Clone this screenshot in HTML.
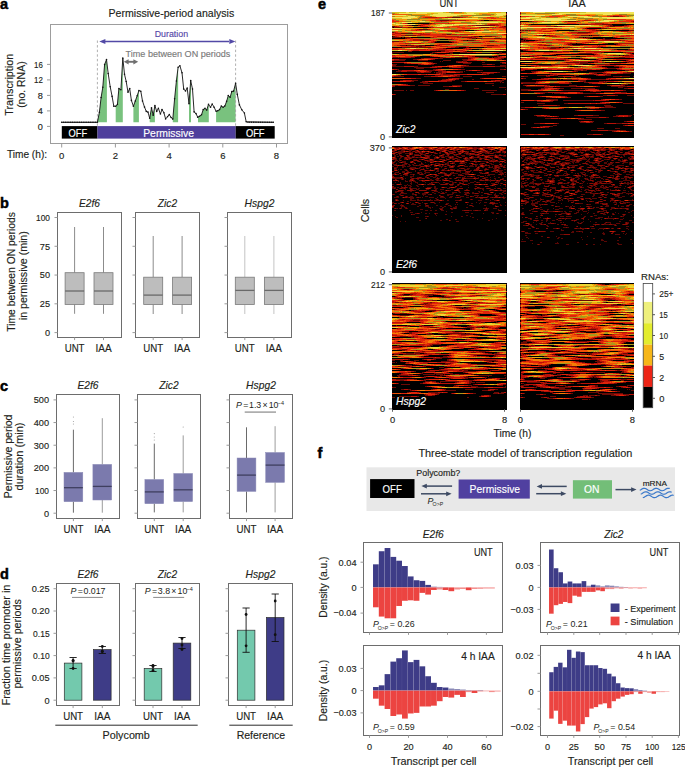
<!DOCTYPE html>
<html><head><meta charset="utf-8"><style>
html,body{margin:0;padding:0;background:#fff;width:685px;height:767px;overflow:hidden}
svg{display:block;font-family:"Liberation Sans",sans-serif}
</style></head><body>
<svg width="685" height="767" viewBox="0 0 685 767">
<text x="0" y="8.9" fill="#000" stroke="#000" stroke-width="0.5" style="font-size:14.5px;font-weight:bold;">a</text>
<text x="171.4" y="16.8" text-anchor="middle" textLength="125.7" lengthAdjust="spacingAndGlyphs" fill="#231f20" stroke="#231f20" stroke-width="0.15" style="font-size:10.9px;">Permissive-period analysis</text>
<rect x="50.5" y="24.5" width="237" height="119" fill="none" stroke="#9d9d9d" stroke-width="1"/>
<line x1="47" y1="126.4" x2="50.5" y2="126.4" stroke="#9a9a9a" stroke-width="1"/>
<text x="42.8" y="129.77" text-anchor="end" textLength="5.1" lengthAdjust="spacingAndGlyphs" fill="#231f20" stroke="#231f20" stroke-width="0.15" style="font-size:9.4px;">0</text>
<line x1="47" y1="110.9" x2="50.5" y2="110.9" stroke="#9a9a9a" stroke-width="1"/>
<text x="42.8" y="114.27" text-anchor="end" textLength="5.1" lengthAdjust="spacingAndGlyphs" fill="#231f20" stroke="#231f20" stroke-width="0.15" style="font-size:9.4px;">4</text>
<line x1="47" y1="95.4" x2="50.5" y2="95.4" stroke="#9a9a9a" stroke-width="1"/>
<text x="42.8" y="98.77" text-anchor="end" textLength="5.1" lengthAdjust="spacingAndGlyphs" fill="#231f20" stroke="#231f20" stroke-width="0.15" style="font-size:9.4px;">8</text>
<line x1="47" y1="79.9" x2="50.5" y2="79.9" stroke="#9a9a9a" stroke-width="1"/>
<text x="42.8" y="83.27" text-anchor="end" textLength="8.8" lengthAdjust="spacingAndGlyphs" fill="#231f20" stroke="#231f20" stroke-width="0.15" style="font-size:9.4px;">12</text>
<line x1="47" y1="64.4" x2="50.5" y2="64.4" stroke="#9a9a9a" stroke-width="1"/>
<text x="42.8" y="67.77" text-anchor="end" textLength="8.8" lengthAdjust="spacingAndGlyphs" fill="#231f20" stroke="#231f20" stroke-width="0.15" style="font-size:9.4px;">16</text>
<text x="13" y="84.8" text-anchor="middle" textLength="61.9" lengthAdjust="spacingAndGlyphs" transform="rotate(-90 13 84.8)" fill="#231f20" stroke="#231f20" stroke-width="0.15" style="font-size:10.7px;">Transcription</text>
<text x="25.2" y="84.6" text-anchor="middle" textLength="46.5" lengthAdjust="spacingAndGlyphs" transform="rotate(-90 25.2 84.6)" fill="#231f20" stroke="#231f20" stroke-width="0.15" style="font-size:10.7px;">(no. RNA)</text>
<line x1="61.7" y1="143.5" x2="61.7" y2="147.5" stroke="#9a9a9a" stroke-width="1"/>
<text x="61.7" y="159" text-anchor="middle" textLength="5.3" lengthAdjust="spacingAndGlyphs" fill="#231f20" stroke="#231f20" stroke-width="0.15" style="font-size:9.4px;">0</text>
<line x1="115.4" y1="143.5" x2="115.4" y2="147.5" stroke="#9a9a9a" stroke-width="1"/>
<text x="115.4" y="159" text-anchor="middle" textLength="5.3" lengthAdjust="spacingAndGlyphs" fill="#231f20" stroke="#231f20" stroke-width="0.15" style="font-size:9.4px;">2</text>
<line x1="169.10000000000002" y1="143.5" x2="169.10000000000002" y2="147.5" stroke="#9a9a9a" stroke-width="1"/>
<text x="169.10000000000002" y="159" text-anchor="middle" textLength="5.3" lengthAdjust="spacingAndGlyphs" fill="#231f20" stroke="#231f20" stroke-width="0.15" style="font-size:9.4px;">4</text>
<line x1="222.8" y1="143.5" x2="222.8" y2="147.5" stroke="#9a9a9a" stroke-width="1"/>
<text x="222.8" y="159" text-anchor="middle" textLength="5.3" lengthAdjust="spacingAndGlyphs" fill="#231f20" stroke="#231f20" stroke-width="0.15" style="font-size:9.4px;">6</text>
<line x1="276.5" y1="143.5" x2="276.5" y2="147.5" stroke="#9a9a9a" stroke-width="1"/>
<text x="276.5" y="159" text-anchor="middle" textLength="5.3" lengthAdjust="spacingAndGlyphs" fill="#231f20" stroke="#231f20" stroke-width="0.15" style="font-size:9.4px;">8</text>
<text x="6.9" y="158" textLength="40.2" lengthAdjust="spacingAndGlyphs" fill="#231f20" stroke="#231f20" stroke-width="0.15" style="font-size:10.7px;">Time (h):</text>
<rect x="61.8" y="126.1" width="35.7" height="12.5" fill="#000" stroke="none" stroke-width="1"/>
<rect x="97.5" y="126.1" width="138.2" height="12.5" fill="#4f3f9c" stroke="none" stroke-width="1"/>
<rect x="235.7" y="126.1" width="39" height="12.5" fill="#000" stroke="none" stroke-width="1"/>
<text x="77.9" y="136.6" text-anchor="middle" textLength="18.6" lengthAdjust="spacingAndGlyphs" fill="#fff" stroke="#fff" stroke-width="0.15" style="font-size:10.7px;">OFF</text>
<text x="168.6" y="136.6" text-anchor="middle" textLength="50.8" lengthAdjust="spacingAndGlyphs" fill="#fff" stroke="#fff" stroke-width="0.15" style="font-size:10.7px;">Permissive</text>
<text x="255.2" y="136.6" text-anchor="middle" textLength="18.6" lengthAdjust="spacingAndGlyphs" fill="#fff" stroke="#fff" stroke-width="0.15" style="font-size:10.7px;">OFF</text>
<polygon points="97.4,122.3 97.4,122.2 99.4,112.3 101.1,97.5 102.8,87.3 104.6,64.5 106.5,59.6 106.9,62.9 106.9,122.3" fill="#79c27e"/>
<polygon points="115.7,122.3 115.7,106.2 117.4,104.5 118.9,88.6 120.9,89.7 122.8,58.0 122.8,122.3" fill="#79c27e"/>
<polygon points="133.4,122.3 133.4,106.2 135.3,101.0 137.2,95.8 138.9,90.6 138.9,122.3" fill="#79c27e"/>
<polygon points="149.7,122.3 149.7,118.3 151.5,107.9 153.2,115.3 154.9,105.6 154.9,122.3" fill="#79c27e"/>
<polygon points="172.8,122.3 172.8,119.1 174.6,98.8 176.4,81.0 178.1,67.3 178.1,122.3" fill="#79c27e"/>
<polygon points="189.0,122.3 189.0,103.7 190.7,80.6 191.0,82.0 191.0,122.3" fill="#79c27e"/>
<polygon points="198.0,122.3 198.0,117.0 199.5,116.3 201.5,114.8 203.2,109.6 205.0,108.4 206.7,110.1 208.5,104.3 208.8,104.7 208.8,122.3" fill="#79c27e"/>
<polygon points="216.1,122.3 216.1,111.3 217.8,110.7 219.6,109.6 221.3,106.1 223.1,107.2 224.8,106.1 226.6,101.4 228.3,95.5 230.1,97.3 231.8,91.5 233.6,91.1 235.6,83.3 235.6,122.3" fill="#79c27e"/>
<line x1="97.4" y1="40.5" x2="97.4" y2="126" stroke="#9a9a9a" stroke-width="0.8" stroke-dasharray="2.4,2.2"/>
<line x1="235.6" y1="40.5" x2="235.6" y2="126" stroke="#9a9a9a" stroke-width="0.8" stroke-dasharray="2.4,2.2"/>
<polyline points="61.5,122.3 97.4,122.3 99.4,112.3 101.1,97.5 102.8,87.3 104.6,64.5 106.5,59.6 108.2,73.6 110.2,86.7 112.1,96.4 113.8,106.2 115.7,106.2 117.4,104.5 118.9,88.6 120.9,89.7 122.8,58.0 124.5,74.3 126.2,81.5 128.0,92.2 129.7,88.6 131.4,100.4 133.4,106.2 135.3,101.0 137.2,95.8 138.9,90.6 140.8,91.2 142.5,101.0 144.5,107.1 146.3,111.4 148.0,112.1 149.7,118.3 151.5,107.9 153.2,115.3 154.9,105.6 156.7,111.4 158.4,108.2 160.4,114.0 162.0,109.5 163.9,112.7 165.6,118.9 167.6,116.6 169.3,114.6 171.1,117.5 172.8,119.1 174.6,98.8 176.4,81.0 178.1,67.3 179.9,65.8 182.0,72.8 183.7,89.1 185.5,90.9 187.2,88.0 189.0,103.7 190.7,80.6 192.5,89.1 194.1,111.9 196.0,113.6 197.7,117.2 199.5,116.3 201.5,114.8 203.2,109.6 205.0,108.4 206.7,110.1 208.5,104.3 210.5,107.2 212.2,104.0 214.1,107.2 216.1,111.3 217.8,110.7 219.6,109.6 221.3,106.1 223.1,107.2 224.8,106.1 226.6,101.4 228.3,95.5 230.1,97.3 231.8,91.5 233.6,91.1 235.6,83.3 237.3,94.4 239.4,104.9 241.8,109.8 244.4,113.0 246.2,121.8 274.0,122.3" fill="none" stroke="#111" stroke-width="0.9" stroke-linejoin="round"/>
<g fill="#111"><circle cx="61.7" cy="122.3" r="0.8"/><circle cx="63.5" cy="122.3" r="0.8"/><circle cx="65.3" cy="122.3" r="0.8"/><circle cx="67.1" cy="122.3" r="0.8"/><circle cx="68.9" cy="122.3" r="0.8"/><circle cx="70.7" cy="122.3" r="0.8"/><circle cx="72.4" cy="122.3" r="0.8"/><circle cx="74.2" cy="122.3" r="0.8"/><circle cx="76.0" cy="122.3" r="0.8"/><circle cx="77.8" cy="122.3" r="0.8"/><circle cx="79.6" cy="122.3" r="0.8"/><circle cx="81.4" cy="122.3" r="0.8"/><circle cx="83.2" cy="122.3" r="0.8"/><circle cx="85.0" cy="122.3" r="0.8"/><circle cx="86.8" cy="122.3" r="0.8"/><circle cx="88.6" cy="122.3" r="0.8"/><circle cx="90.3" cy="122.3" r="0.8"/><circle cx="92.1" cy="122.3" r="0.8"/><circle cx="93.9" cy="122.3" r="0.8"/><circle cx="95.7" cy="122.3" r="0.8"/><circle cx="97.4" cy="122.2" r="0.8"/><circle cx="99.4" cy="112.3" r="0.8"/><circle cx="101.1" cy="97.5" r="0.8"/><circle cx="102.8" cy="87.3" r="0.8"/><circle cx="104.6" cy="64.5" r="0.8"/><circle cx="106.5" cy="59.6" r="0.8"/><circle cx="108.2" cy="73.6" r="0.8"/><circle cx="110.2" cy="86.7" r="0.8"/><circle cx="112.1" cy="96.4" r="0.8"/><circle cx="113.8" cy="106.2" r="0.8"/><circle cx="115.7" cy="106.2" r="0.8"/><circle cx="117.4" cy="104.5" r="0.8"/><circle cx="118.9" cy="88.6" r="0.8"/><circle cx="120.9" cy="89.7" r="0.8"/><circle cx="122.8" cy="58.0" r="0.8"/><circle cx="124.5" cy="74.3" r="0.8"/><circle cx="126.2" cy="81.5" r="0.8"/><circle cx="128.0" cy="92.2" r="0.8"/><circle cx="129.7" cy="88.6" r="0.8"/><circle cx="131.4" cy="100.4" r="0.8"/><circle cx="133.4" cy="106.2" r="0.8"/><circle cx="135.3" cy="101.0" r="0.8"/><circle cx="137.2" cy="95.8" r="0.8"/><circle cx="138.9" cy="90.6" r="0.8"/><circle cx="140.8" cy="91.2" r="0.8"/><circle cx="142.5" cy="101.0" r="0.8"/><circle cx="144.5" cy="107.1" r="0.8"/><circle cx="146.3" cy="111.4" r="0.8"/><circle cx="148.0" cy="112.1" r="0.8"/><circle cx="149.7" cy="118.3" r="0.8"/><circle cx="151.5" cy="107.9" r="0.8"/><circle cx="153.2" cy="115.3" r="0.8"/><circle cx="154.9" cy="105.6" r="0.8"/><circle cx="156.7" cy="111.4" r="0.8"/><circle cx="158.4" cy="108.2" r="0.8"/><circle cx="160.4" cy="114.0" r="0.8"/><circle cx="162.0" cy="109.5" r="0.8"/><circle cx="163.9" cy="112.7" r="0.8"/><circle cx="165.6" cy="118.9" r="0.8"/><circle cx="167.6" cy="116.6" r="0.8"/><circle cx="169.3" cy="114.6" r="0.8"/><circle cx="171.1" cy="117.5" r="0.8"/><circle cx="172.8" cy="119.1" r="0.8"/><circle cx="174.6" cy="98.8" r="0.8"/><circle cx="176.4" cy="81.0" r="0.8"/><circle cx="178.1" cy="67.3" r="0.8"/><circle cx="179.9" cy="65.8" r="0.8"/><circle cx="182.0" cy="72.8" r="0.8"/><circle cx="183.7" cy="89.1" r="0.8"/><circle cx="185.5" cy="90.9" r="0.8"/><circle cx="187.2" cy="88.0" r="0.8"/><circle cx="189.0" cy="103.7" r="0.8"/><circle cx="190.7" cy="80.6" r="0.8"/><circle cx="192.5" cy="89.1" r="0.8"/><circle cx="194.1" cy="111.9" r="0.8"/><circle cx="196.0" cy="113.6" r="0.8"/><circle cx="197.7" cy="117.2" r="0.8"/><circle cx="199.5" cy="116.3" r="0.8"/><circle cx="201.5" cy="114.8" r="0.8"/><circle cx="203.2" cy="109.6" r="0.8"/><circle cx="205.0" cy="108.4" r="0.8"/><circle cx="206.7" cy="110.1" r="0.8"/><circle cx="208.5" cy="104.3" r="0.8"/><circle cx="210.5" cy="107.2" r="0.8"/><circle cx="212.2" cy="104.0" r="0.8"/><circle cx="214.1" cy="107.2" r="0.8"/><circle cx="216.1" cy="111.3" r="0.8"/><circle cx="217.8" cy="110.7" r="0.8"/><circle cx="219.6" cy="109.6" r="0.8"/><circle cx="221.3" cy="106.1" r="0.8"/><circle cx="223.1" cy="107.2" r="0.8"/><circle cx="224.8" cy="106.1" r="0.8"/><circle cx="226.6" cy="101.4" r="0.8"/><circle cx="228.3" cy="95.5" r="0.8"/><circle cx="230.1" cy="97.3" r="0.8"/><circle cx="231.8" cy="91.5" r="0.8"/><circle cx="233.6" cy="91.1" r="0.8"/><circle cx="235.6" cy="83.3" r="0.8"/><circle cx="237.3" cy="94.4" r="0.8"/><circle cx="239.4" cy="104.9" r="0.8"/><circle cx="241.8" cy="109.8" r="0.8"/><circle cx="244.4" cy="113.0" r="0.8"/><circle cx="246.2" cy="121.8" r="0.8"/><circle cx="248.0" cy="122.3" r="0.8"/><circle cx="249.8" cy="122.3" r="0.8"/><circle cx="251.6" cy="122.3" r="0.8"/><circle cx="253.4" cy="122.3" r="0.8"/><circle cx="255.1" cy="122.3" r="0.8"/><circle cx="256.9" cy="122.3" r="0.8"/><circle cx="258.7" cy="122.3" r="0.8"/><circle cx="260.5" cy="122.3" r="0.8"/><circle cx="262.3" cy="122.3" r="0.8"/><circle cx="264.1" cy="122.3" r="0.8"/><circle cx="265.9" cy="122.3" r="0.8"/><circle cx="267.7" cy="122.3" r="0.8"/><circle cx="269.5" cy="122.3" r="0.8"/><circle cx="271.3" cy="122.3" r="0.8"/><circle cx="273.1" cy="122.3" r="0.8"/></g>
<line x1="104" y1="41.5" x2="229" y2="41.5" stroke="#5249a6" stroke-width="1.4"/>
<path d="M99.3,41.5 L105.4,38.9 L105.4,44.1 z" fill="#5249a6"/>
<path d="M235.4,41.5 L229.3,38.9 L229.3,44.1 z" fill="#5249a6"/>
<text x="171.4" y="37.3" text-anchor="middle" textLength="33.3" lengthAdjust="spacingAndGlyphs" fill="#5547a8" stroke="#5547a8" stroke-width="0.15" style="font-size:9.5px;">Duration</text>
<line x1="127" y1="61.8" x2="135" y2="61.8" stroke="#6f6f6f" stroke-width="1.9"/>
<path d="M123.8,61.8 L128.6,59.2 L128.6,64.4 z" fill="#6f6f6f"/>
<path d="M138.2,61.8 L133.4,59.2 L133.4,64.4 z" fill="#6f6f6f"/>
<text x="125.6" y="56.9" textLength="104.8" lengthAdjust="spacingAndGlyphs" fill="#7a7a7a" stroke="#7a7a7a" stroke-width="0.15" style="font-size:9.5px;">Time between ON periods</text>
<text x="0" y="207.5" fill="#000" stroke="#000" stroke-width="0.5" style="font-size:14.5px;font-weight:bold;">b</text>
<rect x="57.5" y="212.5" width="64.0" height="125.0" fill="none" stroke="#6d6d6d" stroke-width="1"/>
<line x1="54.5" y1="332.6" x2="57.5" y2="332.6" stroke="#9a9a9a" stroke-width="1"/>
<line x1="54.5" y1="303.82500000000005" x2="57.5" y2="303.82500000000005" stroke="#9a9a9a" stroke-width="1"/>
<line x1="54.5" y1="275.05" x2="57.5" y2="275.05" stroke="#9a9a9a" stroke-width="1"/>
<line x1="54.5" y1="246.27500000000003" x2="57.5" y2="246.27500000000003" stroke="#9a9a9a" stroke-width="1"/>
<line x1="54.5" y1="217.5" x2="57.5" y2="217.5" stroke="#9a9a9a" stroke-width="1"/>
<rect x="135.5" y="212.5" width="64.0" height="125.0" fill="none" stroke="#6d6d6d" stroke-width="1"/>
<line x1="132.5" y1="332.6" x2="135.5" y2="332.6" stroke="#9a9a9a" stroke-width="1"/>
<line x1="132.5" y1="303.82500000000005" x2="135.5" y2="303.82500000000005" stroke="#9a9a9a" stroke-width="1"/>
<line x1="132.5" y1="275.05" x2="135.5" y2="275.05" stroke="#9a9a9a" stroke-width="1"/>
<line x1="132.5" y1="246.27500000000003" x2="135.5" y2="246.27500000000003" stroke="#9a9a9a" stroke-width="1"/>
<line x1="132.5" y1="217.5" x2="135.5" y2="217.5" stroke="#9a9a9a" stroke-width="1"/>
<rect x="227.5" y="212.5" width="64.0" height="125.0" fill="none" stroke="#6d6d6d" stroke-width="1"/>
<line x1="224.5" y1="332.6" x2="227.5" y2="332.6" stroke="#9a9a9a" stroke-width="1"/>
<line x1="224.5" y1="303.82500000000005" x2="227.5" y2="303.82500000000005" stroke="#9a9a9a" stroke-width="1"/>
<line x1="224.5" y1="275.05" x2="227.5" y2="275.05" stroke="#9a9a9a" stroke-width="1"/>
<line x1="224.5" y1="246.27500000000003" x2="227.5" y2="246.27500000000003" stroke="#9a9a9a" stroke-width="1"/>
<line x1="224.5" y1="217.5" x2="227.5" y2="217.5" stroke="#9a9a9a" stroke-width="1"/>
<text x="50" y="335.97" text-anchor="end" textLength="5.1" lengthAdjust="spacingAndGlyphs" fill="#231f20" stroke="#231f20" stroke-width="0.15" style="font-size:9.4px;">0</text>
<text x="50" y="307.19" text-anchor="end" textLength="10.2" lengthAdjust="spacingAndGlyphs" fill="#231f20" stroke="#231f20" stroke-width="0.15" style="font-size:9.4px;">25</text>
<text x="50" y="278.42" text-anchor="end" textLength="10.2" lengthAdjust="spacingAndGlyphs" fill="#231f20" stroke="#231f20" stroke-width="0.15" style="font-size:9.4px;">50</text>
<text x="50" y="249.64" text-anchor="end" textLength="10.2" lengthAdjust="spacingAndGlyphs" fill="#231f20" stroke="#231f20" stroke-width="0.15" style="font-size:9.4px;">75</text>
<text x="50" y="220.87" text-anchor="end" textLength="13.9" lengthAdjust="spacingAndGlyphs" fill="#231f20" stroke="#231f20" stroke-width="0.15" style="font-size:9.4px;">100</text>
<text x="89.5" y="206.8" text-anchor="middle" textLength="20.9" lengthAdjust="spacingAndGlyphs" fill="#231f20" stroke="#231f20" stroke-width="0.15" style="font-size:10.7px;font-style:italic;">E2f6</text>
<text x="167.5" y="206.8" text-anchor="middle" textLength="19.3" lengthAdjust="spacingAndGlyphs" fill="#231f20" stroke="#231f20" stroke-width="0.15" style="font-size:10.7px;font-style:italic;">Zic2</text>
<text x="259.5" y="206.8" text-anchor="middle" textLength="29.8" lengthAdjust="spacingAndGlyphs" fill="#231f20" stroke="#231f20" stroke-width="0.15" style="font-size:10.7px;font-style:italic;">Hspg2</text>
<line x1="74.6" y1="227" x2="74.6" y2="272.7" stroke="#8c8c8c" stroke-width="1"/>
<line x1="74.6" y1="304.4" x2="74.6" y2="313.8" stroke="#8c8c8c" stroke-width="1"/>
<rect x="65.1" y="272.7" width="19" height="31.7" fill="#bdbdbd" stroke="#7a7a7a" stroke-width="0.8"/>
<line x1="65.1" y1="291" x2="84.1" y2="291" stroke="#6a6a6a" stroke-width="1.3"/>
<line x1="103.5" y1="227" x2="103.5" y2="272.7" stroke="#8c8c8c" stroke-width="1"/>
<line x1="103.5" y1="304.4" x2="103.5" y2="313.8" stroke="#8c8c8c" stroke-width="1"/>
<rect x="94.0" y="272.7" width="19" height="31.7" fill="#bdbdbd" stroke="#7a7a7a" stroke-width="0.8"/>
<line x1="94.0" y1="291" x2="113.0" y2="291" stroke="#6a6a6a" stroke-width="1.3"/>
<line x1="153.2" y1="236" x2="153.2" y2="277.2" stroke="#8c8c8c" stroke-width="1"/>
<line x1="153.2" y1="304.5" x2="153.2" y2="314" stroke="#8c8c8c" stroke-width="1"/>
<rect x="143.7" y="277.2" width="19" height="27.3" fill="#bdbdbd" stroke="#7a7a7a" stroke-width="0.8"/>
<line x1="143.7" y1="295.1" x2="162.7" y2="295.1" stroke="#6a6a6a" stroke-width="1.3"/>
<line x1="182.1" y1="236" x2="182.1" y2="277.2" stroke="#8c8c8c" stroke-width="1"/>
<line x1="182.1" y1="304.5" x2="182.1" y2="314" stroke="#8c8c8c" stroke-width="1"/>
<rect x="172.6" y="277.2" width="19" height="27.3" fill="#bdbdbd" stroke="#7a7a7a" stroke-width="0.8"/>
<line x1="172.6" y1="295.1" x2="191.6" y2="295.1" stroke="#6a6a6a" stroke-width="1.3"/>
<line x1="244.8" y1="236" x2="244.8" y2="277.2" stroke="#c4c4c4" stroke-width="1"/>
<line x1="244.8" y1="304.5" x2="244.8" y2="314" stroke="#c4c4c4" stroke-width="1"/>
<rect x="235.3" y="277.2" width="19" height="27.3" fill="#bdbdbd" stroke="#7a7a7a" stroke-width="0.8"/>
<line x1="235.3" y1="290.4" x2="254.3" y2="290.4" stroke="#6a6a6a" stroke-width="1.3"/>
<line x1="273.9" y1="236" x2="273.9" y2="277.2" stroke="#c4c4c4" stroke-width="1"/>
<line x1="273.9" y1="304.5" x2="273.9" y2="314" stroke="#c4c4c4" stroke-width="1"/>
<rect x="264.4" y="277.2" width="19" height="27.3" fill="#bdbdbd" stroke="#7a7a7a" stroke-width="0.8"/>
<line x1="264.4" y1="290.4" x2="283.4" y2="290.4" stroke="#6a6a6a" stroke-width="1.3"/>
<line x1="74.6" y1="337.5" x2="74.6" y2="340.1" stroke="#9a9a9a" stroke-width="1"/>
<line x1="103.5" y1="337.5" x2="103.5" y2="340.1" stroke="#9a9a9a" stroke-width="1"/>
<text x="74.6" y="351.9" text-anchor="middle" textLength="19.9" lengthAdjust="spacingAndGlyphs" fill="#231f20" stroke="#231f20" stroke-width="0.15" style="font-size:10.7px;">UNT</text>
<text x="103.5" y="351.9" text-anchor="middle" textLength="16.2" lengthAdjust="spacingAndGlyphs" fill="#231f20" stroke="#231f20" stroke-width="0.15" style="font-size:10.7px;">IAA</text>
<line x1="153.2" y1="337.5" x2="153.2" y2="340.1" stroke="#9a9a9a" stroke-width="1"/>
<line x1="182.1" y1="337.5" x2="182.1" y2="340.1" stroke="#9a9a9a" stroke-width="1"/>
<text x="153.2" y="351.9" text-anchor="middle" textLength="19.9" lengthAdjust="spacingAndGlyphs" fill="#231f20" stroke="#231f20" stroke-width="0.15" style="font-size:10.7px;">UNT</text>
<text x="182.1" y="351.9" text-anchor="middle" textLength="16.2" lengthAdjust="spacingAndGlyphs" fill="#231f20" stroke="#231f20" stroke-width="0.15" style="font-size:10.7px;">IAA</text>
<line x1="244.8" y1="337.5" x2="244.8" y2="340.1" stroke="#9a9a9a" stroke-width="1"/>
<line x1="273.9" y1="337.5" x2="273.9" y2="340.1" stroke="#9a9a9a" stroke-width="1"/>
<text x="244.8" y="351.9" text-anchor="middle" textLength="19.9" lengthAdjust="spacingAndGlyphs" fill="#231f20" stroke="#231f20" stroke-width="0.15" style="font-size:10.7px;">UNT</text>
<text x="273.9" y="351.9" text-anchor="middle" textLength="16.2" lengthAdjust="spacingAndGlyphs" fill="#231f20" stroke="#231f20" stroke-width="0.15" style="font-size:10.7px;">IAA</text>
<text x="14.6" y="271.9" text-anchor="middle" textLength="119.7" lengthAdjust="spacingAndGlyphs" transform="rotate(-90 14.6 271.9)" fill="#231f20" stroke="#231f20" stroke-width="0.15" style="font-size:10.7px;">Time between ON periods</text>
<text x="27.2" y="275.7" text-anchor="middle" textLength="89" lengthAdjust="spacingAndGlyphs" transform="rotate(-90 27.2 275.7)" fill="#231f20" stroke="#231f20" stroke-width="0.15" style="font-size:10.7px;">in permissive (min)</text>
<text x="0" y="390.8" fill="#000" stroke="#000" stroke-width="0.5" style="font-size:14.5px;font-weight:bold;">c</text>
<rect x="56.5" y="394.5" width="63.0" height="124.0" fill="none" stroke="#6d6d6d" stroke-width="1"/>
<line x1="53.5" y1="513.2" x2="56.5" y2="513.2" stroke="#9a9a9a" stroke-width="1"/>
<line x1="53.5" y1="490.54" x2="56.5" y2="490.54" stroke="#9a9a9a" stroke-width="1"/>
<line x1="53.5" y1="467.88000000000005" x2="56.5" y2="467.88000000000005" stroke="#9a9a9a" stroke-width="1"/>
<line x1="53.5" y1="445.22" x2="56.5" y2="445.22" stroke="#9a9a9a" stroke-width="1"/>
<line x1="53.5" y1="422.56000000000006" x2="56.5" y2="422.56000000000006" stroke="#9a9a9a" stroke-width="1"/>
<line x1="53.5" y1="399.90000000000003" x2="56.5" y2="399.90000000000003" stroke="#9a9a9a" stroke-width="1"/>
<rect x="137.5" y="394.5" width="63.0" height="124.0" fill="none" stroke="#6d6d6d" stroke-width="1"/>
<line x1="134.5" y1="513.2" x2="137.5" y2="513.2" stroke="#9a9a9a" stroke-width="1"/>
<line x1="134.5" y1="490.54" x2="137.5" y2="490.54" stroke="#9a9a9a" stroke-width="1"/>
<line x1="134.5" y1="467.88000000000005" x2="137.5" y2="467.88000000000005" stroke="#9a9a9a" stroke-width="1"/>
<line x1="134.5" y1="445.22" x2="137.5" y2="445.22" stroke="#9a9a9a" stroke-width="1"/>
<line x1="134.5" y1="422.56000000000006" x2="137.5" y2="422.56000000000006" stroke="#9a9a9a" stroke-width="1"/>
<line x1="134.5" y1="399.90000000000003" x2="137.5" y2="399.90000000000003" stroke="#9a9a9a" stroke-width="1"/>
<rect x="229.5" y="394.5" width="63.0" height="124.0" fill="none" stroke="#6d6d6d" stroke-width="1"/>
<line x1="226.5" y1="513.2" x2="229.5" y2="513.2" stroke="#9a9a9a" stroke-width="1"/>
<line x1="226.5" y1="490.54" x2="229.5" y2="490.54" stroke="#9a9a9a" stroke-width="1"/>
<line x1="226.5" y1="467.88000000000005" x2="229.5" y2="467.88000000000005" stroke="#9a9a9a" stroke-width="1"/>
<line x1="226.5" y1="445.22" x2="229.5" y2="445.22" stroke="#9a9a9a" stroke-width="1"/>
<line x1="226.5" y1="422.56000000000006" x2="229.5" y2="422.56000000000006" stroke="#9a9a9a" stroke-width="1"/>
<line x1="226.5" y1="399.90000000000003" x2="229.5" y2="399.90000000000003" stroke="#9a9a9a" stroke-width="1"/>
<text x="49" y="516.57" text-anchor="end" textLength="5.1" lengthAdjust="spacingAndGlyphs" fill="#231f20" stroke="#231f20" stroke-width="0.15" style="font-size:9.4px;">0</text>
<text x="49" y="493.91" text-anchor="end" textLength="13.9" lengthAdjust="spacingAndGlyphs" fill="#231f20" stroke="#231f20" stroke-width="0.15" style="font-size:9.4px;">100</text>
<text x="49" y="471.25" text-anchor="end" textLength="15.3" lengthAdjust="spacingAndGlyphs" fill="#231f20" stroke="#231f20" stroke-width="0.15" style="font-size:9.4px;">200</text>
<text x="49" y="448.59" text-anchor="end" textLength="15.3" lengthAdjust="spacingAndGlyphs" fill="#231f20" stroke="#231f20" stroke-width="0.15" style="font-size:9.4px;">300</text>
<text x="49" y="425.93" text-anchor="end" textLength="15.3" lengthAdjust="spacingAndGlyphs" fill="#231f20" stroke="#231f20" stroke-width="0.15" style="font-size:9.4px;">400</text>
<text x="49" y="403.27" text-anchor="end" textLength="15.3" lengthAdjust="spacingAndGlyphs" fill="#231f20" stroke="#231f20" stroke-width="0.15" style="font-size:9.4px;">500</text>
<text x="88.0" y="388.6" text-anchor="middle" textLength="20.9" lengthAdjust="spacingAndGlyphs" fill="#231f20" stroke="#231f20" stroke-width="0.15" style="font-size:10.7px;font-style:italic;">E2f6</text>
<text x="169.0" y="388.6" text-anchor="middle" textLength="19.3" lengthAdjust="spacingAndGlyphs" fill="#231f20" stroke="#231f20" stroke-width="0.15" style="font-size:10.7px;font-style:italic;">Zic2</text>
<text x="261.0" y="388.6" text-anchor="middle" textLength="29.8" lengthAdjust="spacingAndGlyphs" fill="#231f20" stroke="#231f20" stroke-width="0.15" style="font-size:10.7px;font-style:italic;">Hspg2</text>
<line x1="73.4" y1="429.7" x2="73.4" y2="472.4" stroke="#6a6a6a" stroke-width="1"/>
<line x1="73.4" y1="501.7" x2="73.4" y2="512.7" stroke="#6a6a6a" stroke-width="1"/>
<rect x="64.0" y="472.4" width="18.8" height="29.3" fill="#7b7aad" stroke="#8a89b5" stroke-width="0.5"/>
<line x1="64.0" y1="487.7" x2="82.80000000000001" y2="487.7" stroke="#3f3f5f" stroke-width="1.3"/>
<circle cx="73.4" cy="421.5" r="0.55" fill="#999"/>
<circle cx="73.4" cy="424" r="0.55" fill="#999"/>
<circle cx="73.4" cy="417" r="0.55" fill="#999"/>
<line x1="102.3" y1="418.2" x2="102.3" y2="464.4" stroke="#9c9c9c" stroke-width="1"/>
<line x1="102.3" y1="500" x2="102.3" y2="512.7" stroke="#9c9c9c" stroke-width="1"/>
<rect x="92.9" y="464.4" width="18.8" height="35.6" fill="#7b7aad" stroke="#8a89b5" stroke-width="0.5"/>
<line x1="92.89999999999999" y1="486.4" x2="111.7" y2="486.4" stroke="#3f3f5f" stroke-width="1.3"/>
<line x1="154.3" y1="443.6" x2="154.3" y2="479.5" stroke="#6a6a6a" stroke-width="1"/>
<line x1="154.3" y1="503.7" x2="154.3" y2="512.4" stroke="#6a6a6a" stroke-width="1"/>
<rect x="144.9" y="479.5" width="18.8" height="24.2" fill="#7b7aad" stroke="#8a89b5" stroke-width="0.5"/>
<line x1="144.9" y1="491.9" x2="163.70000000000002" y2="491.9" stroke="#3f3f5f" stroke-width="1.3"/>
<circle cx="154.3" cy="433.6" r="0.55" fill="#999"/>
<circle cx="154.3" cy="437" r="0.55" fill="#999"/>
<circle cx="154.3" cy="440" r="0.55" fill="#999"/>
<line x1="183.2" y1="435.4" x2="183.2" y2="473.5" stroke="#9c9c9c" stroke-width="1"/>
<line x1="183.2" y1="501.6" x2="183.2" y2="512.4" stroke="#9c9c9c" stroke-width="1"/>
<rect x="173.8" y="473.5" width="18.8" height="28.1" fill="#7b7aad" stroke="#8a89b5" stroke-width="0.5"/>
<line x1="173.79999999999998" y1="489.8" x2="192.6" y2="489.8" stroke="#3f3f5f" stroke-width="1.3"/>
<circle cx="183.2" cy="427" r="0.55" fill="#999"/>
<line x1="246.5" y1="427.3" x2="246.5" y2="458" stroke="#6a6a6a" stroke-width="1"/>
<line x1="246.5" y1="491.4" x2="246.5" y2="512.4" stroke="#6a6a6a" stroke-width="1"/>
<rect x="237.1" y="458" width="18.8" height="33.4" fill="#7b7aad" stroke="#8a89b5" stroke-width="0.5"/>
<line x1="237.1" y1="475.1" x2="255.9" y2="475.1" stroke="#3f3f5f" stroke-width="1.3"/>
<line x1="275.1" y1="426.2" x2="275.1" y2="452.5" stroke="#9c9c9c" stroke-width="1"/>
<line x1="275.1" y1="482.4" x2="275.1" y2="512.4" stroke="#9c9c9c" stroke-width="1"/>
<rect x="265.7" y="452.5" width="18.8" height="29.9" fill="#7b7aad" stroke="#8a89b5" stroke-width="0.5"/>
<line x1="265.70000000000005" y1="465.1" x2="284.5" y2="465.1" stroke="#3f3f5f" stroke-width="1.3"/>
<line x1="73.4" y1="518.5" x2="73.4" y2="521.1" stroke="#9a9a9a" stroke-width="1"/>
<line x1="102.3" y1="518.5" x2="102.3" y2="521.1" stroke="#9a9a9a" stroke-width="1"/>
<text x="73.4" y="533" text-anchor="middle" textLength="19.9" lengthAdjust="spacingAndGlyphs" fill="#231f20" stroke="#231f20" stroke-width="0.15" style="font-size:10.7px;">UNT</text>
<text x="102.3" y="533" text-anchor="middle" textLength="16.2" lengthAdjust="spacingAndGlyphs" fill="#231f20" stroke="#231f20" stroke-width="0.15" style="font-size:10.7px;">IAA</text>
<line x1="154.3" y1="518.5" x2="154.3" y2="521.1" stroke="#9a9a9a" stroke-width="1"/>
<line x1="183.2" y1="518.5" x2="183.2" y2="521.1" stroke="#9a9a9a" stroke-width="1"/>
<text x="154.3" y="533" text-anchor="middle" textLength="19.9" lengthAdjust="spacingAndGlyphs" fill="#231f20" stroke="#231f20" stroke-width="0.15" style="font-size:10.7px;">UNT</text>
<text x="183.2" y="533" text-anchor="middle" textLength="16.2" lengthAdjust="spacingAndGlyphs" fill="#231f20" stroke="#231f20" stroke-width="0.15" style="font-size:10.7px;">IAA</text>
<line x1="246.5" y1="518.5" x2="246.5" y2="521.1" stroke="#9a9a9a" stroke-width="1"/>
<line x1="275.1" y1="518.5" x2="275.1" y2="521.1" stroke="#9a9a9a" stroke-width="1"/>
<text x="246.5" y="533" text-anchor="middle" textLength="19.9" lengthAdjust="spacingAndGlyphs" fill="#231f20" stroke="#231f20" stroke-width="0.15" style="font-size:10.7px;">UNT</text>
<text x="275.1" y="533" text-anchor="middle" textLength="16.2" lengthAdjust="spacingAndGlyphs" fill="#231f20" stroke="#231f20" stroke-width="0.15" style="font-size:10.7px;">IAA</text>
<text x="12.5" y="456.4" text-anchor="middle" textLength="83.7" lengthAdjust="spacingAndGlyphs" transform="rotate(-90 12.5 456.4)" fill="#231f20" stroke="#231f20" stroke-width="0.15" style="font-size:10.7px;">Permissive period</text>
<text x="23" y="456.5" text-anchor="middle" textLength="67.8" lengthAdjust="spacingAndGlyphs" transform="rotate(-90 23 456.5)" fill="#231f20" stroke="#231f20" stroke-width="0.15" style="font-size:10.7px;">duration (min)</text>
<text x="235.9" y="407.5" fill="#231f20" style="font-size:8.8px;"><tspan font-style="italic">P</tspan><tspan x="243.2">=</tspan><tspan x="249">1.3</tspan><tspan x="262.4">×</tspan><tspan x="268.7">10</tspan><tspan x="277.8" y="404.6" style="font-size:5.5px">−4</tspan></text>
<line x1="244.7" y1="412.1" x2="276" y2="412.1" stroke="#9a9a9a" stroke-width="1.4"/>
<text x="0" y="579.3" fill="#000" stroke="#000" stroke-width="0.5" style="font-size:14.5px;font-weight:bold;">d</text>
<rect x="56.5" y="583.5" width="63.0" height="122.0" fill="none" stroke="#6d6d6d" stroke-width="1"/>
<line x1="53.5" y1="700.2" x2="56.5" y2="700.2" stroke="#9a9a9a" stroke-width="1"/>
<line x1="53.5" y1="677.9000000000001" x2="56.5" y2="677.9000000000001" stroke="#9a9a9a" stroke-width="1"/>
<line x1="53.5" y1="655.6" x2="56.5" y2="655.6" stroke="#9a9a9a" stroke-width="1"/>
<line x1="53.5" y1="633.3000000000001" x2="56.5" y2="633.3000000000001" stroke="#9a9a9a" stroke-width="1"/>
<line x1="53.5" y1="611.0" x2="56.5" y2="611.0" stroke="#9a9a9a" stroke-width="1"/>
<line x1="53.5" y1="588.7" x2="56.5" y2="588.7" stroke="#9a9a9a" stroke-width="1"/>
<rect x="135.5" y="583.5" width="64.0" height="122.0" fill="none" stroke="#6d6d6d" stroke-width="1"/>
<line x1="132.5" y1="700.2" x2="135.5" y2="700.2" stroke="#9a9a9a" stroke-width="1"/>
<line x1="132.5" y1="677.9000000000001" x2="135.5" y2="677.9000000000001" stroke="#9a9a9a" stroke-width="1"/>
<line x1="132.5" y1="655.6" x2="135.5" y2="655.6" stroke="#9a9a9a" stroke-width="1"/>
<line x1="132.5" y1="633.3000000000001" x2="135.5" y2="633.3000000000001" stroke="#9a9a9a" stroke-width="1"/>
<line x1="132.5" y1="611.0" x2="135.5" y2="611.0" stroke="#9a9a9a" stroke-width="1"/>
<line x1="132.5" y1="588.7" x2="135.5" y2="588.7" stroke="#9a9a9a" stroke-width="1"/>
<rect x="228.5" y="583.5" width="64.0" height="122.0" fill="none" stroke="#6d6d6d" stroke-width="1"/>
<line x1="225.5" y1="700.2" x2="228.5" y2="700.2" stroke="#9a9a9a" stroke-width="1"/>
<line x1="225.5" y1="677.9000000000001" x2="228.5" y2="677.9000000000001" stroke="#9a9a9a" stroke-width="1"/>
<line x1="225.5" y1="655.6" x2="228.5" y2="655.6" stroke="#9a9a9a" stroke-width="1"/>
<line x1="225.5" y1="633.3000000000001" x2="228.5" y2="633.3000000000001" stroke="#9a9a9a" stroke-width="1"/>
<line x1="225.5" y1="611.0" x2="228.5" y2="611.0" stroke="#9a9a9a" stroke-width="1"/>
<line x1="225.5" y1="588.7" x2="228.5" y2="588.7" stroke="#9a9a9a" stroke-width="1"/>
<text x="49.6" y="703.57" text-anchor="end" textLength="5.1" lengthAdjust="spacingAndGlyphs" fill="#231f20" stroke="#231f20" stroke-width="0.15" style="font-size:9.4px;">0</text>
<text x="49.6" y="681.27" text-anchor="end" textLength="17.9" lengthAdjust="spacingAndGlyphs" fill="#231f20" stroke="#231f20" stroke-width="0.15" style="font-size:9.4px;">0.05</text>
<text x="49.6" y="658.97" text-anchor="end" textLength="16.5" lengthAdjust="spacingAndGlyphs" fill="#231f20" stroke="#231f20" stroke-width="0.15" style="font-size:9.4px;">0.10</text>
<text x="49.6" y="636.67" text-anchor="end" textLength="16.5" lengthAdjust="spacingAndGlyphs" fill="#231f20" stroke="#231f20" stroke-width="0.15" style="font-size:9.4px;">0.15</text>
<text x="49.6" y="614.37" text-anchor="end" textLength="17.9" lengthAdjust="spacingAndGlyphs" fill="#231f20" stroke="#231f20" stroke-width="0.15" style="font-size:9.4px;">0.20</text>
<text x="49.6" y="592.07" text-anchor="end" textLength="17.9" lengthAdjust="spacingAndGlyphs" fill="#231f20" stroke="#231f20" stroke-width="0.15" style="font-size:9.4px;">0.25</text>
<text x="88.0" y="578.2" text-anchor="middle" textLength="20.9" lengthAdjust="spacingAndGlyphs" fill="#231f20" stroke="#231f20" stroke-width="0.15" style="font-size:10.7px;font-style:italic;">E2f6</text>
<text x="167.5" y="578.2" text-anchor="middle" textLength="19.3" lengthAdjust="spacingAndGlyphs" fill="#231f20" stroke="#231f20" stroke-width="0.15" style="font-size:10.7px;font-style:italic;">Zic2</text>
<text x="260.5" y="578.2" text-anchor="middle" textLength="29.8" lengthAdjust="spacingAndGlyphs" fill="#231f20" stroke="#231f20" stroke-width="0.15" style="font-size:10.7px;font-style:italic;">Hspg2</text>
<rect x="64.3" y="663.1" width="17.6" height="37.1" fill="#73c9ad" stroke="#2e2e2e" stroke-width="0.7"/>
<line x1="73.1" y1="657.5" x2="73.1" y2="668.5" stroke="#111" stroke-width="0.9"/>
<line x1="69.5" y1="657.5" x2="76.69999999999999" y2="657.5" stroke="#111" stroke-width="0.9"/>
<line x1="69.5" y1="668.5" x2="76.69999999999999" y2="668.5" stroke="#111" stroke-width="0.9"/>
<circle cx="73.1" cy="660.5" r="1.4" fill="#111"/>
<circle cx="73.1" cy="668.5" r="1.4" fill="#111"/>
<circle cx="73.1" cy="661" r="1.4" fill="#111"/>
<rect x="93.5" y="649.6" width="17.6" height="50.6" fill="#3e3c87" stroke="#2e2e2e" stroke-width="0.7"/>
<line x1="102.3" y1="646.5" x2="102.3" y2="653.5" stroke="#111" stroke-width="0.9"/>
<line x1="98.7" y1="646.5" x2="105.89999999999999" y2="646.5" stroke="#111" stroke-width="0.9"/>
<line x1="98.7" y1="653.5" x2="105.89999999999999" y2="653.5" stroke="#111" stroke-width="0.9"/>
<circle cx="102.3" cy="646.5" r="1.4" fill="#111"/>
<circle cx="102.3" cy="651.5" r="1.4" fill="#111"/>
<circle cx="102.3" cy="651.5" r="1.4" fill="#111"/>
<rect x="144.2" y="668.5" width="17.6" height="31.7" fill="#73c9ad" stroke="#2e2e2e" stroke-width="0.7"/>
<line x1="153.0" y1="665.5" x2="153.0" y2="671.5" stroke="#111" stroke-width="0.9"/>
<line x1="149.4" y1="665.5" x2="156.6" y2="665.5" stroke="#111" stroke-width="0.9"/>
<line x1="149.4" y1="671.5" x2="156.6" y2="671.5" stroke="#111" stroke-width="0.9"/>
<circle cx="153.0" cy="665.5" r="1.4" fill="#111"/>
<circle cx="153.0" cy="670.5" r="1.4" fill="#111"/>
<circle cx="153.0" cy="666.5" r="1.4" fill="#111"/>
<rect x="173.2" y="643.1" width="17.6" height="57.1" fill="#3e3c87" stroke="#2e2e2e" stroke-width="0.7"/>
<line x1="182.0" y1="637.5" x2="182.0" y2="648.5" stroke="#111" stroke-width="0.9"/>
<line x1="178.4" y1="637.5" x2="185.6" y2="637.5" stroke="#111" stroke-width="0.9"/>
<line x1="178.4" y1="648.5" x2="185.6" y2="648.5" stroke="#111" stroke-width="0.9"/>
<circle cx="182.0" cy="638.5" r="1.4" fill="#111"/>
<circle cx="182.0" cy="645" r="1.4" fill="#111"/>
<circle cx="182.0" cy="649.5" r="1.4" fill="#111"/>
<rect x="237.3" y="630.2" width="17.6" height="70.0" fill="#73c9ad" stroke="#2e2e2e" stroke-width="0.7"/>
<line x1="246.1" y1="608" x2="246.1" y2="652.3" stroke="#111" stroke-width="0.9"/>
<line x1="242.5" y1="608" x2="249.7" y2="608" stroke="#111" stroke-width="0.9"/>
<line x1="242.5" y1="652.3" x2="249.7" y2="652.3" stroke="#111" stroke-width="0.9"/>
<circle cx="246.1" cy="614.5" r="1.4" fill="#111"/>
<circle cx="246.1" cy="645.8" r="1.4" fill="#111"/>
<rect x="266.4" y="617.5" width="17.6" height="82.7" fill="#3e3c87" stroke="#2e2e2e" stroke-width="0.7"/>
<line x1="275.2" y1="594" x2="275.2" y2="641.5" stroke="#111" stroke-width="0.9"/>
<line x1="271.59999999999997" y1="594" x2="278.8" y2="594" stroke="#111" stroke-width="0.9"/>
<line x1="271.59999999999997" y1="641.5" x2="278.8" y2="641.5" stroke="#111" stroke-width="0.9"/>
<circle cx="275.2" cy="601" r="1.4" fill="#111"/>
<circle cx="275.2" cy="634.7" r="1.4" fill="#111"/>
<line x1="73.1" y1="705.5" x2="73.1" y2="708.1" stroke="#9a9a9a" stroke-width="1"/>
<line x1="102.3" y1="705.5" x2="102.3" y2="708.1" stroke="#9a9a9a" stroke-width="1"/>
<text x="73.1" y="720" text-anchor="middle" textLength="19.9" lengthAdjust="spacingAndGlyphs" fill="#231f20" stroke="#231f20" stroke-width="0.15" style="font-size:10.7px;">UNT</text>
<text x="102.3" y="720" text-anchor="middle" textLength="16.2" lengthAdjust="spacingAndGlyphs" fill="#231f20" stroke="#231f20" stroke-width="0.15" style="font-size:10.7px;">IAA</text>
<line x1="153.0" y1="705.5" x2="153.0" y2="708.1" stroke="#9a9a9a" stroke-width="1"/>
<line x1="182.0" y1="705.5" x2="182.0" y2="708.1" stroke="#9a9a9a" stroke-width="1"/>
<text x="153.0" y="720" text-anchor="middle" textLength="19.9" lengthAdjust="spacingAndGlyphs" fill="#231f20" stroke="#231f20" stroke-width="0.15" style="font-size:10.7px;">UNT</text>
<text x="182.0" y="720" text-anchor="middle" textLength="16.2" lengthAdjust="spacingAndGlyphs" fill="#231f20" stroke="#231f20" stroke-width="0.15" style="font-size:10.7px;">IAA</text>
<line x1="246.1" y1="705.5" x2="246.1" y2="708.1" stroke="#9a9a9a" stroke-width="1"/>
<line x1="275.2" y1="705.5" x2="275.2" y2="708.1" stroke="#9a9a9a" stroke-width="1"/>
<text x="246.1" y="720" text-anchor="middle" textLength="19.9" lengthAdjust="spacingAndGlyphs" fill="#231f20" stroke="#231f20" stroke-width="0.15" style="font-size:10.7px;">UNT</text>
<text x="275.2" y="720" text-anchor="middle" textLength="16.2" lengthAdjust="spacingAndGlyphs" fill="#231f20" stroke="#231f20" stroke-width="0.15" style="font-size:10.7px;">IAA</text>
<text x="9.8" y="645" text-anchor="middle" textLength="120.8" lengthAdjust="spacingAndGlyphs" transform="rotate(-90 9.8 645)" fill="#231f20" stroke="#231f20" stroke-width="0.15" style="font-size:10.7px;">Fraction time promoter in</text>
<text x="21.3" y="643.9" text-anchor="middle" textLength="89.4" lengthAdjust="spacingAndGlyphs" transform="rotate(-90 21.3 643.9)" fill="#231f20" stroke="#231f20" stroke-width="0.15" style="font-size:10.7px;">permissive periods</text>
<text x="70.5" y="594.3" fill="#231f20" style="font-size:8.8px;"><tspan font-style="italic">P</tspan><tspan x="77.8">=</tspan><tspan x="83.5">0.017</tspan></text>
<line x1="72" y1="597.4" x2="102.8" y2="597.4" stroke="#8a8a8a" stroke-width="1"/>
<text x="144.7" y="594.3" fill="#231f20" style="font-size:8.8px;"><tspan font-style="italic">P</tspan><tspan x="152">=</tspan><tspan x="157.8">3.8</tspan><tspan x="171.2">×</tspan><tspan x="177.5">10</tspan><tspan x="186.6" y="591.4" style="font-size:5.5px">−4</tspan></text>
<line x1="153.2" y1="597.4" x2="184.2" y2="597.4" stroke="#8a8a8a" stroke-width="1"/>
<line x1="55.3" y1="725.2" x2="197.7" y2="725.2" stroke="#2a2a2a" stroke-width="1"/>
<line x1="229.3" y1="725.2" x2="292.7" y2="725.2" stroke="#2a2a2a" stroke-width="1"/>
<text x="126.2" y="738.6" text-anchor="middle" textLength="47.3" lengthAdjust="spacingAndGlyphs" fill="#231f20" stroke="#231f20" stroke-width="0.15" style="font-size:10.7px;">Polycomb</text>
<text x="260.9" y="738.6" text-anchor="middle" textLength="48.5" lengthAdjust="spacingAndGlyphs" fill="#231f20" stroke="#231f20" stroke-width="0.15" style="font-size:10.7px;">Reference</text>
<text x="318" y="9.0" fill="#000" stroke="#000" stroke-width="0.5" style="font-size:14.5px;font-weight:bold;">e</text>
<text x="449.1" y="7.3" text-anchor="middle" textLength="19.4" lengthAdjust="spacingAndGlyphs" fill="#231f20" stroke="#231f20" stroke-width="0.15" style="font-size:10.7px;">UNT</text>
<text x="577.1" y="7.3" text-anchor="middle" textLength="17.5" lengthAdjust="spacingAndGlyphs" fill="#231f20" stroke="#231f20" stroke-width="0.15" style="font-size:10.7px;">IAA</text>
<defs>
<linearGradient id="g00" x1="0" y1="0" x2="0" y2="1"><stop offset="0" stop-color="rgb(255,255,255)"/><stop offset="0.03" stop-color="rgb(246,246,246)"/><stop offset="0.07" stop-color="rgb(233,233,233)"/><stop offset="0.12" stop-color="rgb(215,215,215)"/><stop offset="0.25" stop-color="rgb(197,197,197)"/><stop offset="0.35" stop-color="rgb(177,177,177)"/><stop offset="0.45" stop-color="rgb(158,158,158)"/><stop offset="0.52" stop-color="rgb(145,145,145)"/><stop offset="0.58" stop-color="rgb(133,133,133)"/><stop offset="0.62" stop-color="rgb(117,117,117)"/><stop offset="0.66" stop-color="rgb(98,98,98)"/><stop offset="0.7" stop-color="rgb(0,0,0)"/><stop offset="1" stop-color="rgb(0,0,0)"/></linearGradient>
<filter id="hm00" x="0" y="0" width="1" height="1" color-interpolation-filters="sRGB">
<feTurbulence type="fractalNoise" baseFrequency="0.03 2.3" numOctaves="2" seed="3" result="t1"/>
<feColorMatrix in="t1" type="matrix" values="1 0 0 0 0  1 0 0 0 0  1 0 0 0 0  0 0 0 0 1" result="n1"/>
<feTurbulence type="fractalNoise" baseFrequency="0 0.7" numOctaves="1" seed="4" result="t2"/>
<feColorMatrix in="t2" type="matrix" values="1 0 0 0 0  1 0 0 0 0  1 0 0 0 0  0 0 0 0 1" result="n2"/>
<feComposite in="n1" in2="n2" operator="arithmetic" k1="0" k2="0.8" k3="0.6" k4="-0.19999999999999996" result="m"/>
<feComposite in="m" in2="SourceGraphic" operator="arithmetic" k1="0" k2="2" k3="1.5" k4="-1.6" result="v"/>
<feComponentTransfer in="v"><feFuncR type="discrete" tableValues="0.00 0.00 0.00 0.00 0.42 0.72 0.90 0.94 0.60 0.96 0.82 0.95"/><feFuncG type="discrete" tableValues="0.00 0.00 0.00 0.00 0.04 0.07 0.16 0.35 0.52 0.60 0.78 0.90"/><feFuncB type="discrete" tableValues="0.00 0.00 0.00 0.00 0.02 0.03 0.04 0.03 0.12 0.03 0.15 0.35"/><feFuncA type="linear" slope="0" intercept="1"/></feComponentTransfer>
</filter>
<linearGradient id="g01" x1="0" y1="0" x2="0" y2="1"><stop offset="0" stop-color="rgb(255,255,255)"/><stop offset="0.03" stop-color="rgb(249,249,249)"/><stop offset="0.07" stop-color="rgb(230,230,230)"/><stop offset="0.12" stop-color="rgb(218,218,218)"/><stop offset="0.25" stop-color="rgb(200,200,200)"/><stop offset="0.4" stop-color="rgb(186,186,186)"/><stop offset="0.5" stop-color="rgb(167,167,167)"/><stop offset="0.6" stop-color="rgb(155,155,155)"/><stop offset="0.7" stop-color="rgb(144,144,144)"/><stop offset="0.8" stop-color="rgb(133,133,133)"/><stop offset="0.9" stop-color="rgb(120,120,120)"/><stop offset="1" stop-color="rgb(115,115,115)"/></linearGradient>
<filter id="hm01" x="0" y="0" width="1" height="1" color-interpolation-filters="sRGB">
<feTurbulence type="fractalNoise" baseFrequency="0.03 2.3" numOctaves="2" seed="5" result="t1"/>
<feColorMatrix in="t1" type="matrix" values="1 0 0 0 0  1 0 0 0 0  1 0 0 0 0  0 0 0 0 1" result="n1"/>
<feTurbulence type="fractalNoise" baseFrequency="0 0.7" numOctaves="1" seed="6" result="t2"/>
<feColorMatrix in="t2" type="matrix" values="1 0 0 0 0  1 0 0 0 0  1 0 0 0 0  0 0 0 0 1" result="n2"/>
<feComposite in="n1" in2="n2" operator="arithmetic" k1="0" k2="0.8" k3="0.6" k4="-0.19999999999999996" result="m"/>
<feComposite in="m" in2="SourceGraphic" operator="arithmetic" k1="0" k2="2" k3="1.5" k4="-1.6" result="v"/>
<feComponentTransfer in="v"><feFuncR type="discrete" tableValues="0.00 0.00 0.00 0.00 0.42 0.72 0.90 0.94 0.60 0.96 0.82 0.95"/><feFuncG type="discrete" tableValues="0.00 0.00 0.00 0.00 0.04 0.07 0.16 0.35 0.52 0.60 0.78 0.90"/><feFuncB type="discrete" tableValues="0.00 0.00 0.00 0.00 0.02 0.03 0.04 0.03 0.12 0.03 0.15 0.35"/><feFuncA type="linear" slope="0" intercept="1"/></feComponentTransfer>
</filter>
<linearGradient id="g10" x1="0" y1="0" x2="0" y2="1"><stop offset="0" stop-color="rgb(223,223,223)"/><stop offset="0.015" stop-color="rgb(185,185,185)"/><stop offset="0.03" stop-color="rgb(167,167,167)"/><stop offset="0.08" stop-color="rgb(161,161,161)"/><stop offset="0.2" stop-color="rgb(157,157,157)"/><stop offset="0.3" stop-color="rgb(154,154,154)"/><stop offset="0.4" stop-color="rgb(150,150,150)"/><stop offset="0.48" stop-color="rgb(145,145,145)"/><stop offset="0.55" stop-color="rgb(137,137,137)"/><stop offset="0.6" stop-color="rgb(129,129,129)"/><stop offset="0.65" stop-color="rgb(0,0,0)"/><stop offset="1" stop-color="rgb(0,0,0)"/></linearGradient>
<filter id="hm10" x="0" y="0" width="1" height="1" color-interpolation-filters="sRGB">
<feTurbulence type="fractalNoise" baseFrequency="0.2 2.3" numOctaves="2" seed="9" result="t1"/>
<feColorMatrix in="t1" type="matrix" values="1 0 0 0 0  1 0 0 0 0  1 0 0 0 0  0 0 0 0 1" result="n1"/>
<feTurbulence type="fractalNoise" baseFrequency="0 0.7" numOctaves="1" seed="10" result="t2"/>
<feColorMatrix in="t2" type="matrix" values="1 0 0 0 0  1 0 0 0 0  1 0 0 0 0  0 0 0 0 1" result="n2"/>
<feComposite in="n1" in2="n2" operator="arithmetic" k1="0" k2="0.4" k3="0.2" k4="0.19999999999999996" result="m"/>
<feComposite in="m" in2="SourceGraphic" operator="arithmetic" k1="0" k2="2" k3="1.5" k4="-1.6" result="v"/>
<feComponentTransfer in="v"><feFuncR type="discrete" tableValues="0.00 0.00 0.00 0.00 0.35 0.55 0.75 0.88 0.93 0.95 0.80 0.93"/><feFuncG type="discrete" tableValues="0.00 0.00 0.00 0.00 0.03 0.05 0.10 0.20 0.40 0.60 0.70 0.85"/><feFuncB type="discrete" tableValues="0.00 0.00 0.00 0.00 0.02 0.02 0.03 0.03 0.03 0.05 0.10 0.20"/><feFuncA type="linear" slope="0" intercept="1"/></feComponentTransfer>
</filter>
<linearGradient id="g11" x1="0" y1="0" x2="0" y2="1"><stop offset="0" stop-color="rgb(223,223,223)"/><stop offset="0.015" stop-color="rgb(185,185,185)"/><stop offset="0.03" stop-color="rgb(167,167,167)"/><stop offset="0.08" stop-color="rgb(161,161,161)"/><stop offset="0.2" stop-color="rgb(156,156,156)"/><stop offset="0.3" stop-color="rgb(155,155,155)"/><stop offset="0.4" stop-color="rgb(153,153,153)"/><stop offset="0.5" stop-color="rgb(148,148,148)"/><stop offset="0.6" stop-color="rgb(143,143,143)"/><stop offset="0.7" stop-color="rgb(138,138,138)"/><stop offset="0.78" stop-color="rgb(129,129,129)"/><stop offset="0.85" stop-color="rgb(0,0,0)"/><stop offset="1" stop-color="rgb(0,0,0)"/></linearGradient>
<filter id="hm11" x="0" y="0" width="1" height="1" color-interpolation-filters="sRGB">
<feTurbulence type="fractalNoise" baseFrequency="0.2 2.3" numOctaves="2" seed="11" result="t1"/>
<feColorMatrix in="t1" type="matrix" values="1 0 0 0 0  1 0 0 0 0  1 0 0 0 0  0 0 0 0 1" result="n1"/>
<feTurbulence type="fractalNoise" baseFrequency="0 0.7" numOctaves="1" seed="12" result="t2"/>
<feColorMatrix in="t2" type="matrix" values="1 0 0 0 0  1 0 0 0 0  1 0 0 0 0  0 0 0 0 1" result="n2"/>
<feComposite in="n1" in2="n2" operator="arithmetic" k1="0" k2="0.4" k3="0.2" k4="0.19999999999999996" result="m"/>
<feComposite in="m" in2="SourceGraphic" operator="arithmetic" k1="0" k2="2" k3="1.5" k4="-1.6" result="v"/>
<feComponentTransfer in="v"><feFuncR type="discrete" tableValues="0.00 0.00 0.00 0.00 0.35 0.55 0.75 0.88 0.93 0.95 0.80 0.93"/><feFuncG type="discrete" tableValues="0.00 0.00 0.00 0.00 0.03 0.05 0.10 0.20 0.40 0.60 0.70 0.85"/><feFuncB type="discrete" tableValues="0.00 0.00 0.00 0.00 0.02 0.02 0.03 0.03 0.03 0.05 0.10 0.20"/><feFuncA type="linear" slope="0" intercept="1"/></feComponentTransfer>
</filter>
<linearGradient id="g20" x1="0" y1="0" x2="0" y2="1"><stop offset="0" stop-color="rgb(255,255,255)"/><stop offset="0.04" stop-color="rgb(222,222,222)"/><stop offset="0.15" stop-color="rgb(209,209,209)"/><stop offset="0.3" stop-color="rgb(197,197,197)"/><stop offset="0.45" stop-color="rgb(191,191,191)"/><stop offset="0.6" stop-color="rgb(178,178,178)"/><stop offset="0.7" stop-color="rgb(174,174,174)"/><stop offset="0.8" stop-color="rgb(156,156,156)"/><stop offset="0.87" stop-color="rgb(140,140,140)"/><stop offset="0.91" stop-color="rgb(117,117,117)"/><stop offset="0.95" stop-color="rgb(0,0,0)"/><stop offset="1" stop-color="rgb(0,0,0)"/></linearGradient>
<filter id="hm20" x="0" y="0" width="1" height="1" color-interpolation-filters="sRGB">
<feTurbulence type="fractalNoise" baseFrequency="0.04 2.3" numOctaves="2" seed="13" result="t1"/>
<feColorMatrix in="t1" type="matrix" values="1 0 0 0 0  1 0 0 0 0  1 0 0 0 0  0 0 0 0 1" result="n1"/>
<feTurbulence type="fractalNoise" baseFrequency="0 0.7" numOctaves="1" seed="14" result="t2"/>
<feColorMatrix in="t2" type="matrix" values="1 0 0 0 0  1 0 0 0 0  1 0 0 0 0  0 0 0 0 1" result="n2"/>
<feComposite in="n1" in2="n2" operator="arithmetic" k1="0" k2="0.8" k3="0.5" k4="-0.15000000000000002" result="m"/>
<feComposite in="m" in2="SourceGraphic" operator="arithmetic" k1="0" k2="2" k3="1.5" k4="-1.6" result="v"/>
<feComponentTransfer in="v"><feFuncR type="discrete" tableValues="0.00 0.00 0.00 0.00 0.42 0.72 0.88 0.94 0.96 0.66 0.95 0.93"/><feFuncG type="discrete" tableValues="0.00 0.00 0.00 0.00 0.04 0.07 0.14 0.32 0.50 0.60 0.68 0.84"/><feFuncB type="discrete" tableValues="0.00 0.00 0.00 0.00 0.02 0.03 0.04 0.03 0.02 0.12 0.05 0.20"/><feFuncA type="linear" slope="0" intercept="1"/></feComponentTransfer>
</filter>
<linearGradient id="g21" x1="0" y1="0" x2="0" y2="1"><stop offset="0" stop-color="rgb(255,255,255)"/><stop offset="0.04" stop-color="rgb(230,230,230)"/><stop offset="0.15" stop-color="rgb(209,209,209)"/><stop offset="0.3" stop-color="rgb(204,204,204)"/><stop offset="0.45" stop-color="rgb(193,193,193)"/><stop offset="0.6" stop-color="rgb(187,187,187)"/><stop offset="0.7" stop-color="rgb(176,176,176)"/><stop offset="0.8" stop-color="rgb(163,163,163)"/><stop offset="0.88" stop-color="rgb(147,147,147)"/><stop offset="0.92" stop-color="rgb(117,117,117)"/><stop offset="0.96" stop-color="rgb(0,0,0)"/><stop offset="1" stop-color="rgb(0,0,0)"/></linearGradient>
<filter id="hm21" x="0" y="0" width="1" height="1" color-interpolation-filters="sRGB">
<feTurbulence type="fractalNoise" baseFrequency="0.04 2.3" numOctaves="2" seed="17" result="t1"/>
<feColorMatrix in="t1" type="matrix" values="1 0 0 0 0  1 0 0 0 0  1 0 0 0 0  0 0 0 0 1" result="n1"/>
<feTurbulence type="fractalNoise" baseFrequency="0 0.7" numOctaves="1" seed="18" result="t2"/>
<feColorMatrix in="t2" type="matrix" values="1 0 0 0 0  1 0 0 0 0  1 0 0 0 0  0 0 0 0 1" result="n2"/>
<feComposite in="n1" in2="n2" operator="arithmetic" k1="0" k2="0.8" k3="0.5" k4="-0.15000000000000002" result="m"/>
<feComposite in="m" in2="SourceGraphic" operator="arithmetic" k1="0" k2="2" k3="1.5" k4="-1.6" result="v"/>
<feComponentTransfer in="v"><feFuncR type="discrete" tableValues="0.00 0.00 0.00 0.00 0.42 0.72 0.88 0.94 0.96 0.66 0.95 0.93"/><feFuncG type="discrete" tableValues="0.00 0.00 0.00 0.00 0.04 0.07 0.14 0.32 0.50 0.60 0.68 0.84"/><feFuncB type="discrete" tableValues="0.00 0.00 0.00 0.00 0.02 0.03 0.04 0.03 0.02 0.12 0.05 0.20"/><feFuncA type="linear" slope="0" intercept="1"/></feComponentTransfer>
</filter>
</defs>
<rect x="392" y="12" width="114.5" height="125.2" fill="url(#g00)" stroke="none" stroke-width="1" filter="url(#hm00)"/>
<rect x="520.2" y="12" width="113.8" height="125.2" fill="url(#g01)" stroke="none" stroke-width="1" filter="url(#hm01)"/>
<rect x="392" y="146.9" width="114.5" height="125.3" fill="url(#g10)" stroke="none" stroke-width="1" filter="url(#hm10)"/>
<rect x="520.2" y="146.9" width="113.8" height="125.3" fill="url(#g11)" stroke="none" stroke-width="1" filter="url(#hm11)"/>
<rect x="392" y="283.7" width="114.5" height="125.5" fill="url(#g20)" stroke="none" stroke-width="1" filter="url(#hm20)"/>
<rect x="520.2" y="283.7" width="113.8" height="125.5" fill="url(#g21)" stroke="none" stroke-width="1" filter="url(#hm21)"/>
<line x1="388.8" y1="13" x2="392" y2="13" stroke="#555" stroke-width="0.9"/>
<line x1="388.8" y1="136.89999999999998" x2="392" y2="136.89999999999998" stroke="#555" stroke-width="0.9"/>
<text x="385" y="16.37" text-anchor="end" textLength="13.9" lengthAdjust="spacingAndGlyphs" fill="#231f20" stroke="#231f20" stroke-width="0.15" style="font-size:9.4px;">187</text>
<text x="385" y="140.27" text-anchor="end" textLength="5.1" lengthAdjust="spacingAndGlyphs" fill="#231f20" stroke="#231f20" stroke-width="0.15" style="font-size:9.4px;">0</text>
<line x1="388.8" y1="147.9" x2="392" y2="147.9" stroke="#555" stroke-width="0.9"/>
<line x1="388.8" y1="271.9" x2="392" y2="271.9" stroke="#555" stroke-width="0.9"/>
<text x="385" y="151.27" text-anchor="end" textLength="15.3" lengthAdjust="spacingAndGlyphs" fill="#231f20" stroke="#231f20" stroke-width="0.15" style="font-size:9.4px;">370</text>
<text x="385" y="275.27" text-anchor="end" textLength="5.1" lengthAdjust="spacingAndGlyphs" fill="#231f20" stroke="#231f20" stroke-width="0.15" style="font-size:9.4px;">0</text>
<line x1="388.8" y1="284.7" x2="392" y2="284.7" stroke="#555" stroke-width="0.9"/>
<line x1="388.8" y1="408.9" x2="392" y2="408.9" stroke="#555" stroke-width="0.9"/>
<text x="385" y="288.07" text-anchor="end" textLength="13.9" lengthAdjust="spacingAndGlyphs" fill="#231f20" stroke="#231f20" stroke-width="0.15" style="font-size:9.4px;">212</text>
<text x="385" y="412.27" text-anchor="end" textLength="5.1" lengthAdjust="spacingAndGlyphs" fill="#231f20" stroke="#231f20" stroke-width="0.15" style="font-size:9.4px;">0</text>
<text x="369" y="210.6" text-anchor="middle" textLength="23.5" lengthAdjust="spacingAndGlyphs" transform="rotate(-90 369 210.6)" fill="#231f20" stroke="#231f20" stroke-width="0.15" style="font-size:10.7px;">Cells</text>
<text x="396" y="132.5" textLength="19.5" lengthAdjust="spacingAndGlyphs" fill="#fff" stroke="#fff" stroke-width="0.15" style="font-size:10.7px;font-style:italic;">Zic2</text>
<text x="396" y="267.8" textLength="21" lengthAdjust="spacingAndGlyphs" fill="#fff" stroke="#fff" stroke-width="0.15" style="font-size:10.7px;font-style:italic;">E2f6</text>
<text x="396" y="404.8" textLength="30" lengthAdjust="spacingAndGlyphs" fill="#fff" stroke="#fff" stroke-width="0.15" style="font-size:10.7px;font-style:italic;">Hspg2</text>
<line x1="392.5" y1="409.2" x2="392.5" y2="411.8" stroke="#555" stroke-width="0.9"/>
<line x1="504.5" y1="409.2" x2="504.5" y2="411.8" stroke="#555" stroke-width="0.9"/>
<line x1="520.5" y1="409.2" x2="520.5" y2="411.8" stroke="#555" stroke-width="0.9"/>
<line x1="632.5" y1="409.2" x2="632.5" y2="411.8" stroke="#555" stroke-width="0.9"/>
<text x="392.6" y="422.9" text-anchor="middle" textLength="5.2" lengthAdjust="spacingAndGlyphs" fill="#231f20" stroke="#231f20" stroke-width="0.15" style="font-size:9.4px;">0</text>
<text x="504.5" y="422.9" text-anchor="middle" textLength="5.2" lengthAdjust="spacingAndGlyphs" fill="#231f20" stroke="#231f20" stroke-width="0.15" style="font-size:9.4px;">8</text>
<text x="520.3" y="422.9" text-anchor="middle" textLength="5.2" lengthAdjust="spacingAndGlyphs" fill="#231f20" stroke="#231f20" stroke-width="0.15" style="font-size:9.4px;">0</text>
<text x="632.3" y="422.9" text-anchor="middle" textLength="5.2" lengthAdjust="spacingAndGlyphs" fill="#231f20" stroke="#231f20" stroke-width="0.15" style="font-size:9.4px;">8</text>
<text x="512.4" y="436.8" text-anchor="middle" textLength="37.8" lengthAdjust="spacingAndGlyphs" fill="#231f20" stroke="#231f20" stroke-width="0.15" style="font-size:10.7px;">Time (h)</text>
<rect x="643.2" y="283.5" width="9.5" height="18.4" fill="#ffffff" stroke="none" stroke-width="1"/>
<rect x="643.2" y="301.9" width="9.5" height="21.3" fill="#eef07c" stroke="none" stroke-width="1"/>
<rect x="643.2" y="323.2" width="9.5" height="21.4" fill="#e3ec2e" stroke="none" stroke-width="1"/>
<rect x="643.2" y="344.6" width="9.5" height="21.0" fill="#f6b619" stroke="none" stroke-width="1"/>
<rect x="643.2" y="365.6" width="9.5" height="21.3" fill="#ed2416" stroke="none" stroke-width="1"/>
<rect x="643.2" y="386.9" width="9.5" height="20.8" fill="#000000" stroke="none" stroke-width="1"/>
<rect x="643.2" y="283.5" width="9.5" height="124.2" fill="none" stroke="#444" stroke-width="0.8"/>
<line x1="652.7" y1="293.9" x2="655" y2="293.9" stroke="#444" stroke-width="0.9"/>
<text x="659.3" y="297.3" textLength="14.2" lengthAdjust="spacingAndGlyphs" fill="#231f20" stroke="#231f20" stroke-width="0.15" style="font-size:9.4px;">25+</text>
<line x1="652.7" y1="314.7" x2="655" y2="314.7" stroke="#444" stroke-width="0.9"/>
<text x="659.3" y="318.1" textLength="8.5" lengthAdjust="spacingAndGlyphs" fill="#231f20" stroke="#231f20" stroke-width="0.15" style="font-size:9.4px;">15</text>
<line x1="652.7" y1="335.5" x2="655" y2="335.5" stroke="#444" stroke-width="0.9"/>
<text x="659.3" y="338.9" textLength="8.7" lengthAdjust="spacingAndGlyphs" fill="#231f20" stroke="#231f20" stroke-width="0.15" style="font-size:9.4px;">10</text>
<line x1="652.7" y1="356.3" x2="655" y2="356.3" stroke="#444" stroke-width="0.9"/>
<text x="659.3" y="359.7" textLength="4.9" lengthAdjust="spacingAndGlyphs" fill="#231f20" stroke="#231f20" stroke-width="0.15" style="font-size:9.4px;">5</text>
<line x1="652.7" y1="377.5" x2="655" y2="377.5" stroke="#444" stroke-width="0.9"/>
<text x="659.3" y="380.9" textLength="4.9" lengthAdjust="spacingAndGlyphs" fill="#231f20" stroke="#231f20" stroke-width="0.15" style="font-size:9.4px;">2</text>
<line x1="652.7" y1="398.3" x2="655" y2="398.3" stroke="#444" stroke-width="0.9"/>
<text x="659.3" y="401.7" textLength="5.2" lengthAdjust="spacingAndGlyphs" fill="#231f20" stroke="#231f20" stroke-width="0.15" style="font-size:9.4px;">0</text>
<text x="641" y="280.1" textLength="27.8" lengthAdjust="spacingAndGlyphs" fill="#231f20" stroke="#231f20" stroke-width="0.15" style="font-size:9.8px;">RNAs:</text>
<text x="317.5" y="458.2" fill="#000" stroke="#000" stroke-width="0.5" style="font-size:14.5px;font-weight:bold;">f</text>
<text x="525.35" y="456.8" text-anchor="middle" textLength="213.9" lengthAdjust="spacingAndGlyphs" fill="#231f20" stroke="#231f20" stroke-width="0.15" style="font-size:11px;">Three-state model of transcription regulation</text>
<rect x="366.5" y="467.3" width="308.5" height="43.7" fill="#e8e8e8" stroke="none" stroke-width="1"/>
<rect x="370.1" y="479.1" width="44.4" height="18.9" fill="#000" stroke="none" stroke-width="1"/>
<text x="392.2" y="493.4" text-anchor="middle" textLength="19.2" lengthAdjust="spacingAndGlyphs" fill="#fff" stroke="#fff" stroke-width="0.15" style="font-size:10.7px;">OFF</text>
<text x="416.3" y="475.7" textLength="44" lengthAdjust="spacingAndGlyphs" fill="#231f20" stroke="#231f20" stroke-width="0.15" style="font-size:9px;">Polycomb?</text>
<line x1="452.1" y1="486.1" x2="425.17999999999995" y2="486.1" stroke="#3d4a63" stroke-width="1.5"/>
<path d="M421.4,486.1 L426.8,483.7 L426.8,488.5 z" fill="#3d4a63"/>
<line x1="421" y1="493.8" x2="447.82000000000005" y2="493.8" stroke="#3d4a63" stroke-width="1.5"/>
<path d="M451.6,493.8 L446.2,491.4 L446.2,496.2 z" fill="#3d4a63"/>
<text x="427.5" y="504.1" fill="#231f20" style="font-size:8.8px;font-style:italic">P</text>
<text x="432.6" y="506.4" fill="#231f20" textLength="10.6" lengthAdjust="spacingAndGlyphs" style="font-size:4.8px">O&gt;P</text>
<rect x="458.6" y="479.5" width="71.2" height="19.1" fill="#5040a0" stroke="none" stroke-width="1"/>
<text x="494.85" y="493.4" text-anchor="middle" textLength="50.5" lengthAdjust="spacingAndGlyphs" fill="#fff" stroke="#fff" stroke-width="0.15" style="font-size:10.7px;">Permissive</text>
<line x1="566.7" y1="486.4" x2="540.38" y2="486.4" stroke="#3d4a63" stroke-width="1.5"/>
<path d="M536.6,486.4 L542.0,484.0 L542.0,488.8 z" fill="#3d4a63"/>
<line x1="536.2" y1="493.7" x2="562.52" y2="493.7" stroke="#3d4a63" stroke-width="1.5"/>
<path d="M566.3,493.7 L560.9,491.3 L560.9,496.1 z" fill="#3d4a63"/>
<rect x="572.9" y="480.2" width="39.1" height="18.4" fill="#73be78" stroke="none" stroke-width="1"/>
<text x="591.6" y="493.3" text-anchor="middle" textLength="15.4" lengthAdjust="spacingAndGlyphs" fill="#fff" stroke="#fff" stroke-width="0.15" style="font-size:10.7px;">ON</text>
<line x1="615.5" y1="489.6" x2="632.72" y2="489.6" stroke="#3d4a63" stroke-width="1.5"/>
<path d="M636.5,489.6 L631.1,487.2 L631.1,492.0 z" fill="#3d4a63"/>
<text x="642.7" y="485.5" textLength="24.3" lengthAdjust="spacingAndGlyphs" fill="#231f20" stroke="#231f20" stroke-width="0.15" style="font-size:7.2px;">mRNA</text>
<polyline points="640.30,490.07 640.80,489.76 641.30,489.43 641.80,489.11 642.30,488.82 642.80,488.57 643.30,488.39 643.80,488.28 644.30,488.25 644.80,488.31 645.30,488.45 645.80,488.66 646.30,488.93 646.80,489.24 647.30,489.57 647.80,489.89 648.30,490.18 648.80,490.43 649.30,490.61 649.80,490.72 650.30,490.75 650.80,490.69 651.30,490.55 651.80,490.34 652.30,490.07 652.80,489.76 653.30,489.43 653.80,489.11 654.30,488.82 654.80,488.57 655.30,488.39 655.80,488.28 656.30,488.25 656.80,488.31 657.30,488.45 657.80,488.66 658.30,488.93 658.80,489.24 659.30,489.57 659.80,489.89 660.30,490.18 660.80,490.43 661.30,490.61 661.80,490.72 662.30,490.75 662.80,490.69 663.30,490.55 663.80,490.34 664.30,490.07 664.80,489.76 665.30,489.43 665.80,489.11 666.30,488.82 666.80,488.57 667.30,488.39 667.80,488.28 668.30,488.25 668.80,488.31 669.30,488.45" fill="none" stroke="#3a78c9" stroke-width="1.2" stroke-linecap="round"/>
<polyline points="641.20,493.93 641.70,493.68 642.20,493.39 642.70,493.07 643.20,492.74 643.70,492.43 644.20,492.16 644.70,491.95 645.20,491.81 645.70,491.75 646.20,491.78 646.70,491.89 647.20,492.07 647.70,492.32 648.20,492.61 648.70,492.93 649.20,493.26 649.70,493.57 650.20,493.84 650.70,494.05 651.20,494.19 651.70,494.25 652.20,494.22 652.70,494.11 653.20,493.93 653.70,493.68 654.20,493.39 654.70,493.07 655.20,492.74 655.70,492.43 656.20,492.16 656.70,491.95 657.20,491.81 657.70,491.75 658.20,491.78 658.70,491.89 659.20,492.07 659.70,492.32 660.20,492.61 660.70,492.93 661.20,493.26 661.70,493.57 662.20,493.84 662.70,494.05 663.20,494.19 663.70,494.25 664.20,494.22 664.70,494.11 665.20,493.93 665.70,493.68 666.20,493.39 666.70,493.07 667.20,492.74 667.70,492.43 668.20,492.16 668.70,491.95 669.20,491.81 669.70,491.75 670.20,491.78 670.70,491.89 671.20,492.07" fill="none" stroke="#3a78c9" stroke-width="1.2" stroke-linecap="round"/>
<polyline points="643.30,497.54 643.80,497.37 644.30,497.13 644.80,496.85 645.30,496.53 645.80,496.20 646.30,495.89 646.80,495.61 647.30,495.39 647.80,495.23 648.30,495.16 648.80,495.17 649.30,495.26 649.80,495.43 650.30,495.67 650.80,495.95 651.30,496.27 651.80,496.60 652.30,496.91 652.80,497.19 653.30,497.41 653.80,497.57 654.30,497.64 654.80,497.63 655.30,497.54 655.80,497.37 656.30,497.13 656.80,496.85 657.30,496.53 657.80,496.20 658.30,495.89 658.80,495.61 659.30,495.39 659.80,495.23 660.30,495.16 660.80,495.17 661.30,495.26 661.80,495.43 662.30,495.67 662.80,495.95 663.30,496.27 663.80,496.60 664.30,496.91 664.80,497.19 665.30,497.41 665.80,497.57 666.30,497.64 666.80,497.63 667.30,497.54 667.80,497.37 668.30,497.13 668.80,496.85 669.30,496.53 669.80,496.20 670.30,495.89 670.80,495.61 671.30,495.39 671.80,495.23 672.30,495.16 672.80,495.17 673.30,495.26" fill="none" stroke="#3a78c9" stroke-width="1.2" stroke-linecap="round"/>
<rect x="373.0" y="564.3" width="5.8" height="23.1" fill="#3e3c87" stroke="#ffffff" stroke-width="0.3" stroke-opacity="0.15"/>
<rect x="378.8" y="551.2" width="5.8" height="36.2" fill="#3e3c87" stroke="#ffffff" stroke-width="0.3" stroke-opacity="0.15"/>
<rect x="384.6" y="548" width="5.8" height="39.4" fill="#3e3c87" stroke="#ffffff" stroke-width="0.3" stroke-opacity="0.15"/>
<rect x="390.4" y="556.9" width="5.8" height="30.5" fill="#3e3c87" stroke="#ffffff" stroke-width="0.3" stroke-opacity="0.15"/>
<rect x="396.2" y="560.7" width="5.8" height="26.7" fill="#3e3c87" stroke="#ffffff" stroke-width="0.3" stroke-opacity="0.15"/>
<rect x="402.0" y="566" width="5.8" height="21.4" fill="#3e3c87" stroke="#ffffff" stroke-width="0.3" stroke-opacity="0.15"/>
<rect x="407.8" y="576.4" width="5.8" height="11.0" fill="#3e3c87" stroke="#ffffff" stroke-width="0.3" stroke-opacity="0.15"/>
<rect x="413.6" y="580.2" width="5.8" height="7.2" fill="#3e3c87" stroke="#ffffff" stroke-width="0.3" stroke-opacity="0.15"/>
<rect x="419.4" y="580.9" width="5.8" height="6.5" fill="#3e3c87" stroke="#ffffff" stroke-width="0.3" stroke-opacity="0.15"/>
<rect x="425.2" y="584.9" width="5.8" height="2.5" fill="#3e3c87" stroke="#ffffff" stroke-width="0.3" stroke-opacity="0.15"/>
<rect x="431.0" y="586.6" width="5.8" height="0.8" fill="#3e3c87" stroke="#ffffff" stroke-width="0.3" stroke-opacity="0.15" fill-opacity="0.6"/>
<rect x="436.8" y="586.9" width="5.8" height="0.5" fill="#3e3c87" stroke="#ffffff" stroke-width="0.3" stroke-opacity="0.15" fill-opacity="0.6"/>
<rect x="442.6" y="587.1" width="5.8" height="0.3" fill="#3e3c87" stroke="#ffffff" stroke-width="0.3" stroke-opacity="0.15" fill-opacity="0.6"/>
<rect x="373.0" y="587.4" width="5.8" height="19.9" fill="#ec4441" stroke="#ffffff" stroke-width="0.3" stroke-opacity="0.15"/>
<rect x="378.8" y="587.4" width="5.8" height="29.2" fill="#ec4441" stroke="#ffffff" stroke-width="0.3" stroke-opacity="0.15"/>
<rect x="384.6" y="587.4" width="5.8" height="30.9" fill="#ec4441" stroke="#ffffff" stroke-width="0.3" stroke-opacity="0.15"/>
<rect x="390.4" y="587.4" width="5.8" height="30.9" fill="#ec4441" stroke="#ffffff" stroke-width="0.3" stroke-opacity="0.15"/>
<rect x="396.2" y="587.4" width="5.8" height="18.6" fill="#ec4441" stroke="#ffffff" stroke-width="0.3" stroke-opacity="0.15"/>
<rect x="402.0" y="587.4" width="5.8" height="13.4" fill="#ec4441" stroke="#ffffff" stroke-width="0.3" stroke-opacity="0.15"/>
<rect x="407.8" y="587.4" width="5.8" height="12.9" fill="#ec4441" stroke="#ffffff" stroke-width="0.3" stroke-opacity="0.15"/>
<rect x="413.6" y="587.4" width="5.8" height="13.4" fill="#ec4441" stroke="#ffffff" stroke-width="0.3" stroke-opacity="0.15"/>
<rect x="419.4" y="587.4" width="5.8" height="5.5" fill="#ec4441" stroke="#ffffff" stroke-width="0.3" stroke-opacity="0.15"/>
<rect x="425.2" y="587.4" width="5.8" height="7.2" fill="#ec4441" stroke="#ffffff" stroke-width="0.3" stroke-opacity="0.15"/>
<rect x="431.0" y="587.4" width="5.8" height="2.6" fill="#ec4441" stroke="#ffffff" stroke-width="0.3" stroke-opacity="0.15"/>
<rect x="436.8" y="587.4" width="5.8" height="2.1" fill="#ec4441" stroke="#ffffff" stroke-width="0.3" stroke-opacity="0.15" fill-opacity="0.6"/>
<rect x="442.6" y="587.4" width="5.8" height="2.6" fill="#ec4441" stroke="#ffffff" stroke-width="0.3" stroke-opacity="0.15"/>
<rect x="448.4" y="587.4" width="5.8" height="3.8" fill="#ec4441" stroke="#ffffff" stroke-width="0.3" stroke-opacity="0.15"/>
<rect x="454.2" y="587.4" width="5.8" height="2.1" fill="#ec4441" stroke="#ffffff" stroke-width="0.3" stroke-opacity="0.15" fill-opacity="0.6"/>
<rect x="460.0" y="587.4" width="5.8" height="1.6" fill="#ec4441" stroke="#ffffff" stroke-width="0.3" stroke-opacity="0.15" fill-opacity="0.6"/>
<rect x="465.8" y="587.4" width="5.8" height="2.8" fill="#ec4441" stroke="#ffffff" stroke-width="0.3" stroke-opacity="0.15"/>
<rect x="471.6" y="587.4" width="5.8" height="1.6" fill="#ec4441" stroke="#ffffff" stroke-width="0.3" stroke-opacity="0.15" fill-opacity="0.6"/>
<rect x="477.4" y="587.4" width="5.8" height="1.4" fill="#ec4441" stroke="#ffffff" stroke-width="0.3" stroke-opacity="0.15" fill-opacity="0.6"/>
<rect x="483.2" y="587.4" width="5.8" height="1.1" fill="#ec4441" stroke="#ffffff" stroke-width="0.3" stroke-opacity="0.15" fill-opacity="0.6"/>
<rect x="489.0" y="587.4" width="5.8" height="1.1" fill="#ec4441" stroke="#ffffff" stroke-width="0.3" stroke-opacity="0.15" fill-opacity="0.6"/>
<rect x="363.5" y="542.5" width="139.0" height="90.0" fill="none" stroke="#6d6d6d" stroke-width="1"/>
<line x1="360.5" y1="562.2" x2="363.5" y2="562.2" stroke="#9a9a9a" stroke-width="1"/>
<text x="356.5" y="565.57" text-anchor="end" textLength="17.9" lengthAdjust="spacingAndGlyphs" fill="#231f20" stroke="#231f20" stroke-width="0.15" style="font-size:9.4px;">0.04</text>
<line x1="360.5" y1="587.4" x2="363.5" y2="587.4" stroke="#9a9a9a" stroke-width="1"/>
<text x="356.5" y="590.77" text-anchor="end" textLength="5.1" lengthAdjust="spacingAndGlyphs" fill="#231f20" stroke="#231f20" stroke-width="0.15" style="font-size:9.4px;">0</text>
<line x1="360.5" y1="613.1" x2="363.5" y2="613.1" stroke="#9a9a9a" stroke-width="1"/>
<text x="356.5" y="616.47" text-anchor="end" textLength="23.1" lengthAdjust="spacingAndGlyphs" fill="#231f20" stroke="#231f20" stroke-width="0.15" style="font-size:9.4px;">−0.04</text>
<line x1="369.5" y1="632.5" x2="369.5" y2="634.9" stroke="#9a9a9a" stroke-width="1"/>
<line x1="408.5" y1="632.5" x2="408.5" y2="634.9" stroke="#9a9a9a" stroke-width="1"/>
<line x1="447.5" y1="632.5" x2="447.5" y2="634.9" stroke="#9a9a9a" stroke-width="1"/>
<line x1="486.4" y1="632.5" x2="486.4" y2="634.9" stroke="#9a9a9a" stroke-width="1"/>
<text x="473.9" y="555.9" textLength="18.8" lengthAdjust="spacingAndGlyphs" fill="#231f20" stroke="#231f20" stroke-width="0.15" style="font-size:10.7px;">UNT</text>
<text x="373" y="626.6" fill="#231f20" style="font-size:8.8px;font-style:italic">P</text>
<text x="377.8" y="630.1" fill="#231f20" textLength="10.5" lengthAdjust="spacingAndGlyphs" style="font-size:4.8px">O&gt;P</text>
<text x="389.8" y="626.6" fill="#231f20" textLength="24.8" lengthAdjust="spacingAndGlyphs" style="font-size:9.2px">= 0.26</text>
<text x="433.2" y="537.8" text-anchor="middle" textLength="20.9" lengthAdjust="spacingAndGlyphs" fill="#231f20" stroke="#231f20" stroke-width="0.15" style="font-size:10.7px;font-style:italic;">E2f6</text>
<rect x="549.0" y="549.5" width="4.66" height="37.9" fill="#3e3c87" stroke="#ffffff" stroke-width="0.3" stroke-opacity="0.15"/>
<rect x="553.66" y="568.2" width="4.66" height="19.2" fill="#3e3c87" stroke="#ffffff" stroke-width="0.3" stroke-opacity="0.15"/>
<rect x="558.32" y="572.2" width="4.66" height="15.2" fill="#3e3c87" stroke="#ffffff" stroke-width="0.3" stroke-opacity="0.15"/>
<rect x="562.98" y="583.4" width="4.66" height="4.0" fill="#3e3c87" stroke="#ffffff" stroke-width="0.3" stroke-opacity="0.15"/>
<rect x="567.64" y="581.5" width="4.66" height="5.9" fill="#3e3c87" stroke="#ffffff" stroke-width="0.3" stroke-opacity="0.15"/>
<rect x="572.3" y="583.4" width="4.66" height="4.0" fill="#3e3c87" stroke="#ffffff" stroke-width="0.3" stroke-opacity="0.15"/>
<rect x="576.96" y="583.4" width="4.66" height="4.0" fill="#3e3c87" stroke="#ffffff" stroke-width="0.3" stroke-opacity="0.15"/>
<rect x="581.62" y="581.1" width="4.66" height="6.3" fill="#3e3c87" stroke="#ffffff" stroke-width="0.3" stroke-opacity="0.15"/>
<rect x="586.28" y="585.7" width="4.66" height="1.7" fill="#3e3c87" stroke="#ffffff" stroke-width="0.3" stroke-opacity="0.15" fill-opacity="0.6"/>
<rect x="590.94" y="584.7" width="4.66" height="2.7" fill="#3e3c87" stroke="#ffffff" stroke-width="0.3" stroke-opacity="0.15"/>
<rect x="595.6" y="585.3" width="4.66" height="2.1" fill="#3e3c87" stroke="#ffffff" stroke-width="0.3" stroke-opacity="0.15" fill-opacity="0.6"/>
<rect x="600.26" y="586.3" width="4.66" height="1.1" fill="#3e3c87" stroke="#ffffff" stroke-width="0.3" stroke-opacity="0.15" fill-opacity="0.6"/>
<rect x="604.92" y="585.3" width="4.66" height="2.1" fill="#3e3c87" stroke="#ffffff" stroke-width="0.3" stroke-opacity="0.15" fill-opacity="0.6"/>
<rect x="609.58" y="585.7" width="4.66" height="1.7" fill="#3e3c87" stroke="#ffffff" stroke-width="0.3" stroke-opacity="0.15" fill-opacity="0.6"/>
<rect x="614.24" y="586.3" width="4.66" height="1.1" fill="#3e3c87" stroke="#ffffff" stroke-width="0.3" stroke-opacity="0.15" fill-opacity="0.6"/>
<rect x="618.9" y="586.8" width="4.66" height="0.6" fill="#3e3c87" stroke="#ffffff" stroke-width="0.3" stroke-opacity="0.15" fill-opacity="0.6"/>
<rect x="623.56" y="587" width="4.66" height="0.4" fill="#3e3c87" stroke="#ffffff" stroke-width="0.3" stroke-opacity="0.15" fill-opacity="0.6"/>
<rect x="549.0" y="587.4" width="4.66" height="26.3" fill="#ec4441" stroke="#ffffff" stroke-width="0.3" stroke-opacity="0.15"/>
<rect x="553.66" y="587.4" width="4.66" height="17.8" fill="#ec4441" stroke="#ffffff" stroke-width="0.3" stroke-opacity="0.15"/>
<rect x="558.32" y="587.4" width="4.66" height="16.5" fill="#ec4441" stroke="#ffffff" stroke-width="0.3" stroke-opacity="0.15"/>
<rect x="562.98" y="587.4" width="4.66" height="14.6" fill="#ec4441" stroke="#ffffff" stroke-width="0.3" stroke-opacity="0.15"/>
<rect x="567.64" y="587.4" width="4.66" height="15.7" fill="#ec4441" stroke="#ffffff" stroke-width="0.3" stroke-opacity="0.15"/>
<rect x="572.3" y="587.4" width="4.66" height="8.3" fill="#ec4441" stroke="#ffffff" stroke-width="0.3" stroke-opacity="0.15"/>
<rect x="576.96" y="587.4" width="4.66" height="9.3" fill="#ec4441" stroke="#ffffff" stroke-width="0.3" stroke-opacity="0.15"/>
<rect x="581.62" y="587.4" width="4.66" height="4.5" fill="#ec4441" stroke="#ffffff" stroke-width="0.3" stroke-opacity="0.15"/>
<rect x="586.28" y="587.4" width="4.66" height="4.5" fill="#ec4441" stroke="#ffffff" stroke-width="0.3" stroke-opacity="0.15"/>
<rect x="590.94" y="587.4" width="4.66" height="4.5" fill="#ec4441" stroke="#ffffff" stroke-width="0.3" stroke-opacity="0.15"/>
<rect x="595.6" y="587.4" width="4.66" height="3.0" fill="#ec4441" stroke="#ffffff" stroke-width="0.3" stroke-opacity="0.15"/>
<rect x="600.26" y="587.4" width="4.66" height="3.8" fill="#ec4441" stroke="#ffffff" stroke-width="0.3" stroke-opacity="0.15"/>
<rect x="604.92" y="587.4" width="4.66" height="1.7" fill="#ec4441" stroke="#ffffff" stroke-width="0.3" stroke-opacity="0.15" fill-opacity="0.6"/>
<rect x="609.58" y="587.4" width="4.66" height="1.7" fill="#ec4441" stroke="#ffffff" stroke-width="0.3" stroke-opacity="0.15" fill-opacity="0.6"/>
<rect x="614.24" y="587.4" width="4.66" height="0.9" fill="#ec4441" stroke="#ffffff" stroke-width="0.3" stroke-opacity="0.15" fill-opacity="0.6"/>
<rect x="618.9" y="587.4" width="4.66" height="1.3" fill="#ec4441" stroke="#ffffff" stroke-width="0.3" stroke-opacity="0.15" fill-opacity="0.6"/>
<rect x="623.56" y="587.4" width="4.66" height="0.7" fill="#ec4441" stroke="#ffffff" stroke-width="0.3" stroke-opacity="0.15" fill-opacity="0.6"/>
<rect x="628.22" y="587.4" width="4.66" height="1.1" fill="#ec4441" stroke="#ffffff" stroke-width="0.3" stroke-opacity="0.15" fill-opacity="0.6"/>
<rect x="632.88" y="587.4" width="4.66" height="0.8" fill="#ec4441" stroke="#ffffff" stroke-width="0.3" stroke-opacity="0.15" fill-opacity="0.6"/>
<rect x="637.54" y="587.4" width="4.66" height="1.2" fill="#ec4441" stroke="#ffffff" stroke-width="0.3" stroke-opacity="0.15" fill-opacity="0.6"/>
<rect x="642.2" y="587.4" width="4.66" height="0.8" fill="#ec4441" stroke="#ffffff" stroke-width="0.3" stroke-opacity="0.15" fill-opacity="0.6"/>
<rect x="540.5" y="542.5" width="139.0" height="90.0" fill="none" stroke="#6d6d6d" stroke-width="1"/>
<line x1="537.5" y1="565.4" x2="540.5" y2="565.4" stroke="#9a9a9a" stroke-width="1"/>
<text x="533.5" y="568.77" text-anchor="end" textLength="17.9" lengthAdjust="spacingAndGlyphs" fill="#231f20" stroke="#231f20" stroke-width="0.15" style="font-size:9.4px;">0.03</text>
<line x1="537.5" y1="587.4" x2="540.5" y2="587.4" stroke="#9a9a9a" stroke-width="1"/>
<text x="533.5" y="590.77" text-anchor="end" textLength="5.1" lengthAdjust="spacingAndGlyphs" fill="#231f20" stroke="#231f20" stroke-width="0.15" style="font-size:9.4px;">0</text>
<line x1="537.5" y1="609.4" x2="540.5" y2="609.4" stroke="#9a9a9a" stroke-width="1"/>
<text x="533.5" y="612.77" text-anchor="end" textLength="23.1" lengthAdjust="spacingAndGlyphs" fill="#231f20" stroke="#231f20" stroke-width="0.15" style="font-size:9.4px;">−0.03</text>
<line x1="547.5" y1="632.5" x2="547.5" y2="634.9" stroke="#9a9a9a" stroke-width="1"/>
<line x1="573.8" y1="632.5" x2="573.8" y2="634.9" stroke="#9a9a9a" stroke-width="1"/>
<line x1="599.7" y1="632.5" x2="599.7" y2="634.9" stroke="#9a9a9a" stroke-width="1"/>
<line x1="626" y1="632.5" x2="626" y2="634.9" stroke="#9a9a9a" stroke-width="1"/>
<line x1="652.2" y1="632.5" x2="652.2" y2="634.9" stroke="#9a9a9a" stroke-width="1"/>
<line x1="678.4" y1="632.5" x2="678.4" y2="634.9" stroke="#9a9a9a" stroke-width="1"/>
<text x="649.6" y="555.9" textLength="18.8" lengthAdjust="spacingAndGlyphs" fill="#231f20" stroke="#231f20" stroke-width="0.15" style="font-size:10.7px;">UNT</text>
<text x="546" y="626.6" fill="#231f20" style="font-size:8.8px;font-style:italic">P</text>
<text x="550.8" y="630.1" fill="#231f20" textLength="10.5" lengthAdjust="spacingAndGlyphs" style="font-size:4.8px">O&gt;P</text>
<text x="562.8" y="626.6" fill="#231f20" textLength="24.8" lengthAdjust="spacingAndGlyphs" style="font-size:9.2px">= 0.21</text>
<text x="613.8" y="537.8" text-anchor="middle" textLength="19.3" lengthAdjust="spacingAndGlyphs" fill="#231f20" stroke="#231f20" stroke-width="0.15" style="font-size:10.7px;font-style:italic;">Zic2</text>
<rect x="610.6" y="603.5" width="8.9" height="8.5" fill="#3e3c87" stroke="none" stroke-width="1"/>
<rect x="610.6" y="616.6" width="8.9" height="8.7" fill="#ec4441" stroke="none" stroke-width="1"/>
<text x="624.8" y="611.6" textLength="50.8" lengthAdjust="spacingAndGlyphs" fill="#231f20" stroke="#231f20" stroke-width="0.15" style="font-size:9.8px;">- Experiment</text>
<text x="624.8" y="624.6" textLength="48.2" lengthAdjust="spacingAndGlyphs" fill="#231f20" stroke="#231f20" stroke-width="0.15" style="font-size:9.8px;">- Simulation</text>
<rect x="373.0" y="687" width="5.8" height="3.6" fill="#3e3c87" stroke="#ffffff" stroke-width="0.3" stroke-opacity="0.15"/>
<rect x="378.8" y="685.3" width="5.8" height="5.3" fill="#3e3c87" stroke="#ffffff" stroke-width="0.3" stroke-opacity="0.15"/>
<rect x="384.6" y="674.1" width="5.8" height="16.5" fill="#3e3c87" stroke="#ffffff" stroke-width="0.3" stroke-opacity="0.15"/>
<rect x="390.4" y="661.6" width="5.8" height="29.0" fill="#3e3c87" stroke="#ffffff" stroke-width="0.3" stroke-opacity="0.15"/>
<rect x="396.2" y="658.2" width="5.8" height="32.4" fill="#3e3c87" stroke="#ffffff" stroke-width="0.3" stroke-opacity="0.15"/>
<rect x="402.0" y="650.4" width="5.8" height="40.2" fill="#3e3c87" stroke="#ffffff" stroke-width="0.3" stroke-opacity="0.15"/>
<rect x="407.8" y="662.1" width="5.8" height="28.5" fill="#3e3c87" stroke="#ffffff" stroke-width="0.3" stroke-opacity="0.15"/>
<rect x="413.6" y="659.9" width="5.8" height="30.7" fill="#3e3c87" stroke="#ffffff" stroke-width="0.3" stroke-opacity="0.15"/>
<rect x="419.4" y="666.3" width="5.8" height="24.3" fill="#3e3c87" stroke="#ffffff" stroke-width="0.3" stroke-opacity="0.15"/>
<rect x="425.2" y="676.2" width="5.8" height="14.4" fill="#3e3c87" stroke="#ffffff" stroke-width="0.3" stroke-opacity="0.15"/>
<rect x="431.0" y="682.8" width="5.8" height="7.8" fill="#3e3c87" stroke="#ffffff" stroke-width="0.3" stroke-opacity="0.15"/>
<rect x="436.8" y="687" width="5.8" height="3.6" fill="#3e3c87" stroke="#ffffff" stroke-width="0.3" stroke-opacity="0.15"/>
<rect x="442.6" y="687.5" width="5.8" height="3.1" fill="#3e3c87" stroke="#ffffff" stroke-width="0.3" stroke-opacity="0.15"/>
<rect x="448.4" y="688.5" width="5.8" height="2.1" fill="#3e3c87" stroke="#ffffff" stroke-width="0.3" stroke-opacity="0.15" fill-opacity="0.6"/>
<rect x="454.2" y="689" width="5.8" height="1.6" fill="#3e3c87" stroke="#ffffff" stroke-width="0.3" stroke-opacity="0.15" fill-opacity="0.6"/>
<rect x="460.0" y="689.5" width="5.8" height="1.1" fill="#3e3c87" stroke="#ffffff" stroke-width="0.3" stroke-opacity="0.15" fill-opacity="0.6"/>
<rect x="465.8" y="690" width="5.8" height="0.6" fill="#3e3c87" stroke="#ffffff" stroke-width="0.3" stroke-opacity="0.15" fill-opacity="0.6"/>
<rect x="471.6" y="690.3" width="5.8" height="0.3" fill="#3e3c87" stroke="#ffffff" stroke-width="0.3" stroke-opacity="0.15" fill-opacity="0.6"/>
<rect x="477.4" y="690" width="5.8" height="0.6" fill="#3e3c87" stroke="#ffffff" stroke-width="0.3" stroke-opacity="0.15" fill-opacity="0.6"/>
<rect x="373.0" y="690.6" width="5.8" height="8.1" fill="#ec4441" stroke="#ffffff" stroke-width="0.3" stroke-opacity="0.15"/>
<rect x="378.8" y="690.6" width="5.8" height="15.1" fill="#ec4441" stroke="#ffffff" stroke-width="0.3" stroke-opacity="0.15"/>
<rect x="384.6" y="690.6" width="5.8" height="18.4" fill="#ec4441" stroke="#ffffff" stroke-width="0.3" stroke-opacity="0.15"/>
<rect x="390.4" y="690.6" width="5.8" height="25.4" fill="#ec4441" stroke="#ffffff" stroke-width="0.3" stroke-opacity="0.15"/>
<rect x="396.2" y="690.6" width="5.8" height="23.9" fill="#ec4441" stroke="#ffffff" stroke-width="0.3" stroke-opacity="0.15"/>
<rect x="402.0" y="690.6" width="5.8" height="28.0" fill="#ec4441" stroke="#ffffff" stroke-width="0.3" stroke-opacity="0.15"/>
<rect x="407.8" y="690.6" width="5.8" height="22.9" fill="#ec4441" stroke="#ffffff" stroke-width="0.3" stroke-opacity="0.15"/>
<rect x="413.6" y="690.6" width="5.8" height="22.3" fill="#ec4441" stroke="#ffffff" stroke-width="0.3" stroke-opacity="0.15"/>
<rect x="419.4" y="690.6" width="5.8" height="15.9" fill="#ec4441" stroke="#ffffff" stroke-width="0.3" stroke-opacity="0.15"/>
<rect x="425.2" y="690.6" width="5.8" height="15.9" fill="#ec4441" stroke="#ffffff" stroke-width="0.3" stroke-opacity="0.15"/>
<rect x="431.0" y="690.6" width="5.8" height="15.1" fill="#ec4441" stroke="#ffffff" stroke-width="0.3" stroke-opacity="0.15"/>
<rect x="436.8" y="690.6" width="5.8" height="10.6" fill="#ec4441" stroke="#ffffff" stroke-width="0.3" stroke-opacity="0.15"/>
<rect x="442.6" y="690.6" width="5.8" height="6.4" fill="#ec4441" stroke="#ffffff" stroke-width="0.3" stroke-opacity="0.15"/>
<rect x="448.4" y="690.6" width="5.8" height="7.0" fill="#ec4441" stroke="#ffffff" stroke-width="0.3" stroke-opacity="0.15"/>
<rect x="454.2" y="690.6" width="5.8" height="4.3" fill="#ec4441" stroke="#ffffff" stroke-width="0.3" stroke-opacity="0.15"/>
<rect x="460.0" y="690.6" width="5.8" height="6.4" fill="#ec4441" stroke="#ffffff" stroke-width="0.3" stroke-opacity="0.15"/>
<rect x="465.8" y="690.6" width="5.8" height="1.5" fill="#ec4441" stroke="#ffffff" stroke-width="0.3" stroke-opacity="0.15" fill-opacity="0.6"/>
<rect x="471.6" y="690.6" width="5.8" height="2.4" fill="#ec4441" stroke="#ffffff" stroke-width="0.3" stroke-opacity="0.15"/>
<rect x="477.4" y="690.6" width="5.8" height="0.9" fill="#ec4441" stroke="#ffffff" stroke-width="0.3" stroke-opacity="0.15" fill-opacity="0.6"/>
<rect x="483.2" y="690.6" width="5.8" height="0.7" fill="#ec4441" stroke="#ffffff" stroke-width="0.3" stroke-opacity="0.15" fill-opacity="0.6"/>
<rect x="489.0" y="690.6" width="5.8" height="1.5" fill="#ec4441" stroke="#ffffff" stroke-width="0.3" stroke-opacity="0.15" fill-opacity="0.6"/>
<rect x="494.8" y="690.6" width="5.8" height="0.9" fill="#ec4441" stroke="#ffffff" stroke-width="0.3" stroke-opacity="0.15" fill-opacity="0.6"/>
<rect x="363.5" y="645.5" width="139.0" height="90.0" fill="none" stroke="#6d6d6d" stroke-width="1"/>
<line x1="360.5" y1="668.4" x2="363.5" y2="668.4" stroke="#9a9a9a" stroke-width="1"/>
<text x="356.5" y="671.77" text-anchor="end" textLength="17.9" lengthAdjust="spacingAndGlyphs" fill="#231f20" stroke="#231f20" stroke-width="0.15" style="font-size:9.4px;">0.03</text>
<line x1="360.5" y1="690.6" x2="363.5" y2="690.6" stroke="#9a9a9a" stroke-width="1"/>
<text x="356.5" y="693.97" text-anchor="end" textLength="5.1" lengthAdjust="spacingAndGlyphs" fill="#231f20" stroke="#231f20" stroke-width="0.15" style="font-size:9.4px;">0</text>
<line x1="360.5" y1="712.9" x2="363.5" y2="712.9" stroke="#9a9a9a" stroke-width="1"/>
<text x="356.5" y="716.27" text-anchor="end" textLength="23.1" lengthAdjust="spacingAndGlyphs" fill="#231f20" stroke="#231f20" stroke-width="0.15" style="font-size:9.4px;">−0.03</text>
<line x1="369.5" y1="735.5" x2="369.5" y2="737.9" stroke="#9a9a9a" stroke-width="1"/>
<line x1="408.5" y1="735.5" x2="408.5" y2="737.9" stroke="#9a9a9a" stroke-width="1"/>
<line x1="447.5" y1="735.5" x2="447.5" y2="737.9" stroke="#9a9a9a" stroke-width="1"/>
<line x1="486.4" y1="735.5" x2="486.4" y2="737.9" stroke="#9a9a9a" stroke-width="1"/>
<text x="461.2" y="659.5" textLength="33.6" lengthAdjust="spacingAndGlyphs" fill="#231f20" stroke="#231f20" stroke-width="0.15" style="font-size:10.7px;">4 h IAA</text>
<text x="373" y="729.6" fill="#231f20" style="font-size:8.8px;font-style:italic">P</text>
<text x="377.8" y="733.1" fill="#231f20" textLength="10.5" lengthAdjust="spacingAndGlyphs" style="font-size:4.8px">O&gt;P</text>
<text x="389.8" y="729.6" fill="#231f20" textLength="24.8" lengthAdjust="spacingAndGlyphs" style="font-size:9.2px">= 0.59</text>
<rect x="549.2" y="672.2" width="4.45" height="19.1" fill="#3e3c87" stroke="#ffffff" stroke-width="0.3" stroke-opacity="0.15"/>
<rect x="553.65" y="666.9" width="4.45" height="24.4" fill="#3e3c87" stroke="#ffffff" stroke-width="0.3" stroke-opacity="0.15"/>
<rect x="558.1" y="662.7" width="4.45" height="28.6" fill="#3e3c87" stroke="#ffffff" stroke-width="0.3" stroke-opacity="0.15"/>
<rect x="562.55" y="667.3" width="4.45" height="24.0" fill="#3e3c87" stroke="#ffffff" stroke-width="0.3" stroke-opacity="0.15"/>
<rect x="567.0" y="649.8" width="4.45" height="41.5" fill="#3e3c87" stroke="#ffffff" stroke-width="0.3" stroke-opacity="0.15"/>
<rect x="571.45" y="657.8" width="4.45" height="33.5" fill="#3e3c87" stroke="#ffffff" stroke-width="0.3" stroke-opacity="0.15"/>
<rect x="575.9" y="651.5" width="4.45" height="39.8" fill="#3e3c87" stroke="#ffffff" stroke-width="0.3" stroke-opacity="0.15"/>
<rect x="580.35" y="652.1" width="4.45" height="39.2" fill="#3e3c87" stroke="#ffffff" stroke-width="0.3" stroke-opacity="0.15"/>
<rect x="584.8" y="665.2" width="4.45" height="26.1" fill="#3e3c87" stroke="#ffffff" stroke-width="0.3" stroke-opacity="0.15"/>
<rect x="589.25" y="665.2" width="4.45" height="26.1" fill="#3e3c87" stroke="#ffffff" stroke-width="0.3" stroke-opacity="0.15"/>
<rect x="593.7" y="665.2" width="4.45" height="26.1" fill="#3e3c87" stroke="#ffffff" stroke-width="0.3" stroke-opacity="0.15"/>
<rect x="598.15" y="668" width="4.45" height="23.3" fill="#3e3c87" stroke="#ffffff" stroke-width="0.3" stroke-opacity="0.15"/>
<rect x="602.6" y="668.8" width="4.45" height="22.5" fill="#3e3c87" stroke="#ffffff" stroke-width="0.3" stroke-opacity="0.15"/>
<rect x="607.05" y="673.7" width="4.45" height="17.6" fill="#3e3c87" stroke="#ffffff" stroke-width="0.3" stroke-opacity="0.15"/>
<rect x="611.5" y="676.4" width="4.45" height="14.9" fill="#3e3c87" stroke="#ffffff" stroke-width="0.3" stroke-opacity="0.15"/>
<rect x="615.95" y="683.2" width="4.45" height="8.1" fill="#3e3c87" stroke="#ffffff" stroke-width="0.3" stroke-opacity="0.15"/>
<rect x="620.4" y="687.5" width="4.45" height="3.8" fill="#3e3c87" stroke="#ffffff" stroke-width="0.3" stroke-opacity="0.15"/>
<rect x="624.85" y="688.1" width="4.45" height="3.2" fill="#3e3c87" stroke="#ffffff" stroke-width="0.3" stroke-opacity="0.15"/>
<rect x="629.3" y="688.3" width="4.45" height="3.0" fill="#3e3c87" stroke="#ffffff" stroke-width="0.3" stroke-opacity="0.15"/>
<rect x="633.75" y="689.1" width="4.45" height="2.2" fill="#3e3c87" stroke="#ffffff" stroke-width="0.3" stroke-opacity="0.15" fill-opacity="0.6"/>
<rect x="638.2" y="690" width="4.45" height="1.3" fill="#3e3c87" stroke="#ffffff" stroke-width="0.3" stroke-opacity="0.15" fill-opacity="0.6"/>
<rect x="642.65" y="690.6" width="4.45" height="0.7" fill="#3e3c87" stroke="#ffffff" stroke-width="0.3" stroke-opacity="0.15" fill-opacity="0.6"/>
<rect x="549.2" y="691.3" width="4.45" height="27.3" fill="#ec4441" stroke="#ffffff" stroke-width="0.3" stroke-opacity="0.15"/>
<rect x="553.65" y="691.3" width="4.45" height="19.4" fill="#ec4441" stroke="#ffffff" stroke-width="0.3" stroke-opacity="0.15"/>
<rect x="558.1" y="691.3" width="4.45" height="32.6" fill="#ec4441" stroke="#ffffff" stroke-width="0.3" stroke-opacity="0.15"/>
<rect x="562.55" y="691.3" width="4.45" height="29.4" fill="#ec4441" stroke="#ffffff" stroke-width="0.3" stroke-opacity="0.15"/>
<rect x="567.0" y="691.3" width="4.45" height="34.3" fill="#ec4441" stroke="#ffffff" stroke-width="0.3" stroke-opacity="0.15"/>
<rect x="571.45" y="691.3" width="4.45" height="34.3" fill="#ec4441" stroke="#ffffff" stroke-width="0.3" stroke-opacity="0.15"/>
<rect x="575.9" y="691.3" width="4.45" height="40.2" fill="#ec4441" stroke="#ffffff" stroke-width="0.3" stroke-opacity="0.15"/>
<rect x="580.35" y="691.3" width="4.45" height="32.8" fill="#ec4441" stroke="#ffffff" stroke-width="0.3" stroke-opacity="0.15"/>
<rect x="584.8" y="691.3" width="4.45" height="25.8" fill="#ec4441" stroke="#ffffff" stroke-width="0.3" stroke-opacity="0.15"/>
<rect x="589.25" y="691.3" width="4.45" height="17.3" fill="#ec4441" stroke="#ffffff" stroke-width="0.3" stroke-opacity="0.15"/>
<rect x="593.7" y="691.3" width="4.45" height="15.8" fill="#ec4441" stroke="#ffffff" stroke-width="0.3" stroke-opacity="0.15"/>
<rect x="598.15" y="691.3" width="4.45" height="13.1" fill="#ec4441" stroke="#ffffff" stroke-width="0.3" stroke-opacity="0.15"/>
<rect x="602.6" y="691.3" width="4.45" height="12.0" fill="#ec4441" stroke="#ffffff" stroke-width="0.3" stroke-opacity="0.15"/>
<rect x="607.05" y="691.3" width="4.45" height="16.9" fill="#ec4441" stroke="#ffffff" stroke-width="0.3" stroke-opacity="0.15"/>
<rect x="611.5" y="691.3" width="4.45" height="9.9" fill="#ec4441" stroke="#ffffff" stroke-width="0.3" stroke-opacity="0.15"/>
<rect x="615.95" y="691.3" width="4.45" height="7.4" fill="#ec4441" stroke="#ffffff" stroke-width="0.3" stroke-opacity="0.15"/>
<rect x="620.4" y="691.3" width="4.45" height="5.3" fill="#ec4441" stroke="#ffffff" stroke-width="0.3" stroke-opacity="0.15"/>
<rect x="624.85" y="691.3" width="4.45" height="3.6" fill="#ec4441" stroke="#ffffff" stroke-width="0.3" stroke-opacity="0.15"/>
<rect x="629.3" y="691.3" width="4.45" height="2.9" fill="#ec4441" stroke="#ffffff" stroke-width="0.3" stroke-opacity="0.15"/>
<rect x="633.75" y="691.3" width="4.45" height="0.8" fill="#ec4441" stroke="#ffffff" stroke-width="0.3" stroke-opacity="0.15" fill-opacity="0.6"/>
<rect x="638.2" y="691.3" width="4.45" height="2.5" fill="#ec4441" stroke="#ffffff" stroke-width="0.3" stroke-opacity="0.15"/>
<rect x="642.65" y="691.3" width="4.45" height="0.8" fill="#ec4441" stroke="#ffffff" stroke-width="0.3" stroke-opacity="0.15" fill-opacity="0.6"/>
<rect x="647.1" y="691.3" width="4.45" height="1.5" fill="#ec4441" stroke="#ffffff" stroke-width="0.3" stroke-opacity="0.15" fill-opacity="0.6"/>
<rect x="651.55" y="691.3" width="4.45" height="2.5" fill="#ec4441" stroke="#ffffff" stroke-width="0.3" stroke-opacity="0.15"/>
<rect x="656.0" y="691.3" width="4.45" height="0.8" fill="#ec4441" stroke="#ffffff" stroke-width="0.3" stroke-opacity="0.15" fill-opacity="0.6"/>
<rect x="660.45" y="691.3" width="4.45" height="0.8" fill="#ec4441" stroke="#ffffff" stroke-width="0.3" stroke-opacity="0.15" fill-opacity="0.6"/>
<rect x="664.9" y="691.3" width="4.45" height="0.5" fill="#ec4441" stroke="#ffffff" stroke-width="0.3" stroke-opacity="0.15" fill-opacity="0.6"/>
<rect x="540.5" y="645.5" width="139.0" height="90.0" fill="none" stroke="#6d6d6d" stroke-width="1"/>
<line x1="537.5" y1="655.3" x2="540.5" y2="655.3" stroke="#9a9a9a" stroke-width="1"/>
<text x="533.5" y="658.67" text-anchor="end" textLength="17.9" lengthAdjust="spacingAndGlyphs" fill="#231f20" stroke="#231f20" stroke-width="0.15" style="font-size:9.4px;">0.02</text>
<line x1="537.5" y1="673.3" x2="540.5" y2="673.3" stroke="#9a9a9a" stroke-width="1"/>
<line x1="537.5" y1="691.3" x2="540.5" y2="691.3" stroke="#9a9a9a" stroke-width="1"/>
<text x="533.5" y="694.67" text-anchor="end" textLength="5.1" lengthAdjust="spacingAndGlyphs" fill="#231f20" stroke="#231f20" stroke-width="0.15" style="font-size:9.4px;">0</text>
<line x1="537.5" y1="709" x2="540.5" y2="709" stroke="#9a9a9a" stroke-width="1"/>
<line x1="537.5" y1="726.6" x2="540.5" y2="726.6" stroke="#9a9a9a" stroke-width="1"/>
<text x="533.5" y="729.97" text-anchor="end" textLength="23.1" lengthAdjust="spacingAndGlyphs" fill="#231f20" stroke="#231f20" stroke-width="0.15" style="font-size:9.4px;">−0.02</text>
<line x1="547.5" y1="735.5" x2="547.5" y2="737.9" stroke="#9a9a9a" stroke-width="1"/>
<line x1="573.8" y1="735.5" x2="573.8" y2="737.9" stroke="#9a9a9a" stroke-width="1"/>
<line x1="599.7" y1="735.5" x2="599.7" y2="737.9" stroke="#9a9a9a" stroke-width="1"/>
<line x1="626" y1="735.5" x2="626" y2="737.9" stroke="#9a9a9a" stroke-width="1"/>
<line x1="652.2" y1="735.5" x2="652.2" y2="737.9" stroke="#9a9a9a" stroke-width="1"/>
<line x1="678.4" y1="735.5" x2="678.4" y2="737.9" stroke="#9a9a9a" stroke-width="1"/>
<text x="637.5" y="658.9" textLength="33.4" lengthAdjust="spacingAndGlyphs" fill="#231f20" stroke="#231f20" stroke-width="0.15" style="font-size:10.7px;">4 h IAA</text>
<text x="593.5" y="729.6" fill="#231f20" style="font-size:8.8px;font-style:italic">P</text>
<text x="598.3" y="733.1" fill="#231f20" textLength="10.5" lengthAdjust="spacingAndGlyphs" style="font-size:4.8px">O&gt;P</text>
<text x="610.3" y="729.6" fill="#231f20" textLength="24.8" lengthAdjust="spacingAndGlyphs" style="font-size:9.2px">= 0.54</text>
<text x="327" y="587.1" text-anchor="middle" textLength="61.3" lengthAdjust="spacingAndGlyphs" transform="rotate(-90 327 587.1)" fill="#231f20" stroke="#231f20" stroke-width="0.15" style="font-size:10.7px;">Density (a.u.)</text>
<text x="327" y="690.5" text-anchor="middle" textLength="61.3" lengthAdjust="spacingAndGlyphs" transform="rotate(-90 327 690.5)" fill="#231f20" stroke="#231f20" stroke-width="0.15" style="font-size:10.7px;">Density (a.u.)</text>
<text x="369.5" y="749.5" text-anchor="middle" textLength="5.1" lengthAdjust="spacingAndGlyphs" fill="#231f20" stroke="#231f20" stroke-width="0.15" style="font-size:9.4px;">0</text>
<text x="408.5" y="749.5" text-anchor="middle" textLength="10.2" lengthAdjust="spacingAndGlyphs" fill="#231f20" stroke="#231f20" stroke-width="0.15" style="font-size:9.4px;">20</text>
<text x="447.5" y="749.5" text-anchor="middle" textLength="10.2" lengthAdjust="spacingAndGlyphs" fill="#231f20" stroke="#231f20" stroke-width="0.15" style="font-size:9.4px;">40</text>
<text x="486.4" y="749.5" text-anchor="middle" textLength="10.2" lengthAdjust="spacingAndGlyphs" fill="#231f20" stroke="#231f20" stroke-width="0.15" style="font-size:9.4px;">60</text>
<text x="547.5" y="749.5" text-anchor="middle" textLength="5.1" lengthAdjust="spacingAndGlyphs" fill="#231f20" stroke="#231f20" stroke-width="0.15" style="font-size:9.4px;">0</text>
<text x="573.8" y="749.5" text-anchor="middle" textLength="10.2" lengthAdjust="spacingAndGlyphs" fill="#231f20" stroke="#231f20" stroke-width="0.15" style="font-size:9.4px;">25</text>
<text x="599.7" y="749.5" text-anchor="middle" textLength="10.2" lengthAdjust="spacingAndGlyphs" fill="#231f20" stroke="#231f20" stroke-width="0.15" style="font-size:9.4px;">50</text>
<text x="626" y="749.5" text-anchor="middle" textLength="10.2" lengthAdjust="spacingAndGlyphs" fill="#231f20" stroke="#231f20" stroke-width="0.15" style="font-size:9.4px;">75</text>
<text x="652.2" y="749.5" text-anchor="middle" textLength="13.9" lengthAdjust="spacingAndGlyphs" fill="#231f20" stroke="#231f20" stroke-width="0.15" style="font-size:9.4px;">100</text>
<text x="678.6" y="749.5" text-anchor="middle" textLength="13.9" lengthAdjust="spacingAndGlyphs" fill="#231f20" stroke="#231f20" stroke-width="0.15" style="font-size:9.4px;">125</text>
<text x="433.6" y="764.7" text-anchor="middle" textLength="85.8" lengthAdjust="spacingAndGlyphs" fill="#231f20" stroke="#231f20" stroke-width="0.15" style="font-size:11px;">Transcript per cell</text>
<text x="610.5" y="764.9" text-anchor="middle" textLength="85.4" lengthAdjust="spacingAndGlyphs" fill="#231f20" stroke="#231f20" stroke-width="0.15" style="font-size:11px;">Transcript per cell</text>
</svg></body></html>
